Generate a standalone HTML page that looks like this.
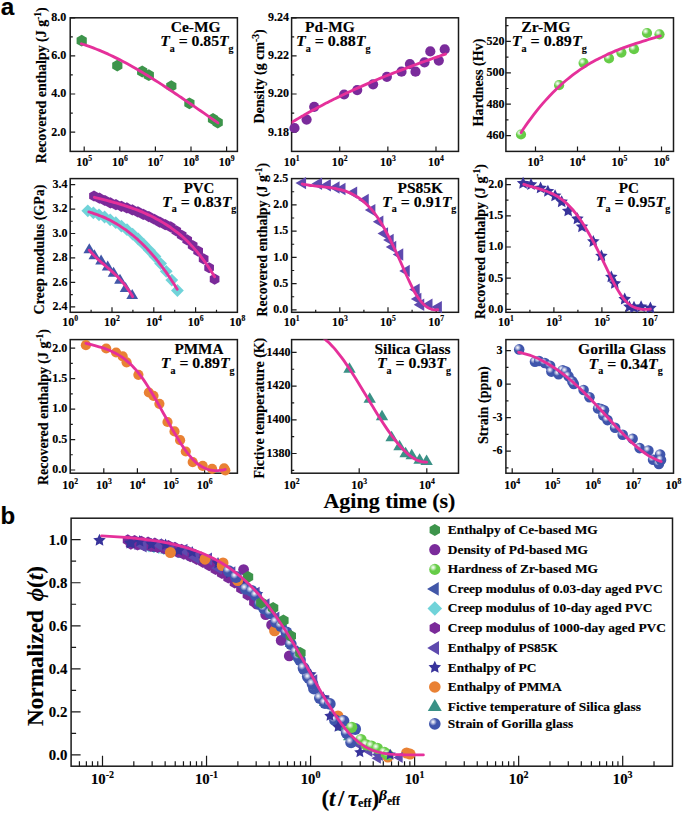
<!DOCTYPE html><html><head><meta charset="utf-8"><style>html,body{margin:0;padding:0;background:#fff;}svg{display:block;}text{font-family:'Liberation Serif', serif;font-weight:bold;fill:#000;stroke:#000;stroke-width:0.15px;}</style></head><body>
<svg width="685" height="813" viewBox="0 0 685 813">
<rect width="685" height="813" fill="#fff"/>
<defs>
<radialGradient id="gz" cx="0.35" cy="0.33" r="0.33" fx="0.35" fy="0.33"><stop offset="0" stop-color="#f7fcf6"/><stop offset="0.25" stop-color="#e0f5da"/><stop offset="1" stop-color="#66CC47"/></radialGradient>
<radialGradient id="gg" cx="0.35" cy="0.33" r="0.33" fx="0.35" fy="0.33"><stop offset="0" stop-color="#f5f6fb"/><stop offset="0.25" stop-color="#d9ddee"/><stop offset="1" stop-color="#3F55AC"/></radialGradient>
<clipPath id="c1"><rect x="70.2" y="17.8" width="167.2" height="133.6"/></clipPath>
<clipPath id="c2"><rect x="291.6" y="17.8" width="166.9" height="133.6"/></clipPath>
<clipPath id="c3"><rect x="505.9" y="17.8" width="167.6" height="133.6"/></clipPath>
<clipPath id="c4"><rect x="70.2" y="178.6" width="167.2" height="133.7"/></clipPath>
<clipPath id="c5"><rect x="291.6" y="178.6" width="166.9" height="133.7"/></clipPath>
<clipPath id="c6"><rect x="505.9" y="178.6" width="167.6" height="133.7"/></clipPath>
<clipPath id="c7"><rect x="70.2" y="339.6" width="167.2" height="133.6"/></clipPath>
<clipPath id="c8"><rect x="291.6" y="339.6" width="166.9" height="133.6"/></clipPath>
<clipPath id="c9"><rect x="505.9" y="339.6" width="167.6" height="133.6"/></clipPath>
<clipPath id="c0"><rect x="71.1" y="518.2" width="601.4" height="248"/></clipPath>
</defs>
<text x="0.7" y="14.7" font-size="24.3" style="font-family:'Liberation Sans',sans-serif">a</text>
<text x="0.6" y="523.5" font-size="24" style="font-family:'Liberation Sans',sans-serif">b</text>
<rect x="70.2" y="17.8" width="167.2" height="133.6" fill="none" stroke="#1a1a1a" stroke-width="1.5"/>
<path d="M70.2,17.8h5M70.2,36.85h2.6M70.2,55.9h5M70.2,74.95h2.6M70.2,94h5M70.2,113.1h2.6M70.2,132.2h5" stroke="#1a1a1a" stroke-width="1.2" fill="none"/>
<text x="66.2" y="21.16" font-size="12" text-anchor="end">8.0</text>
<text x="66.2" y="59.26" font-size="12" text-anchor="end">6.0</text>
<text x="66.2" y="97.36" font-size="12" text-anchor="end">4.0</text>
<text x="66.2" y="135.56" font-size="12" text-anchor="end">2.0</text>
<path d="M84.2,151.4v-5M119.8,151.4v-5M155.4,151.4v-5M191,151.4v-5M226.6,151.4v-5" stroke="#1a1a1a" stroke-width="1.2" fill="none"/>
<text x="84.2" y="166" font-size="12" text-anchor="middle">10<tspan font-size="7.7" dy="-5">5</tspan></text>
<text x="119.8" y="166" font-size="12" text-anchor="middle">10<tspan font-size="7.7" dy="-5">6</tspan></text>
<text x="155.4" y="166" font-size="12" text-anchor="middle">10<tspan font-size="7.7" dy="-5">7</tspan></text>
<text x="191" y="166" font-size="12" text-anchor="middle">10<tspan font-size="7.7" dy="-5">8</tspan></text>
<text x="226.6" y="166" font-size="12" text-anchor="middle">10<tspan font-size="7.7" dy="-5">9</tspan></text>
<text transform="translate(45.7,85.25) rotate(-90)" x="0" y="0" font-size="14" text-anchor="middle" textLength="155.9" lengthAdjust="spacingAndGlyphs">Recovered enthalpy (J g<tspan font-size="9.5" dy="-5">-1</tspan><tspan dy="5">)</tspan></text>
<polygon points="81.7,34.8 86.81,37.75 86.81,43.65 81.7,46.6 76.59,43.65 76.59,37.75" fill="#3D944B"/>
<polygon points="117.3,59.7 122.41,62.65 122.41,68.55 117.3,71.5 112.19,68.55 112.19,62.65" fill="#3D944B"/>
<polygon points="142.2,65.6 147.31,68.55 147.31,74.45 142.2,77.4 137.09,74.45 137.09,68.55" fill="#3D944B"/>
<polygon points="148.8,69.3 153.91,72.25 153.91,78.15 148.8,81.1 143.69,78.15 143.69,72.25" fill="#3D944B"/>
<polygon points="171.3,80.2 176.41,83.15 176.41,89.05 171.3,92 166.19,89.05 166.19,83.15" fill="#3D944B"/>
<polygon points="189.4,97.4 194.51,100.35 194.51,106.25 189.4,109.2 184.29,106.25 184.29,100.35" fill="#3D944B"/>
<polygon points="213,113.1 218.11,116.05 218.11,121.95 213,124.9 207.89,121.95 207.89,116.05" fill="#3D944B"/>
<polygon points="217.7,116.6 222.81,119.55 222.81,125.45 217.7,128.4 212.59,125.45 212.59,119.55" fill="#3D944B"/>
<path d="M81.4,43.8 C81.98,43.99 83.74,44.54 84.9,44.92 C86.07,45.31 87.24,45.7 88.41,46.11 C89.57,46.53 90.74,46.95 91.91,47.38 C93.08,47.82 94.24,48.26 95.41,48.72 C96.58,49.18 97.75,49.65 98.91,50.13 C100.08,50.61 101.25,51.1 102.42,51.6 C103.58,52.1 104.75,52.62 105.92,53.14 C107.09,53.66 108.25,54.2 109.42,54.74 C110.59,55.28 111.76,55.84 112.92,56.4 C114.09,56.96 115.26,57.54 116.43,58.12 C117.59,58.7 118.76,59.29 119.93,59.89 C121.1,60.49 122.26,61.1 123.43,61.72 C124.6,62.33 125.77,62.96 126.93,63.59 C128.1,64.23 129.27,64.87 130.44,65.52 C131.6,66.17 132.77,66.83 133.94,67.49 C135.11,68.16 136.27,68.83 137.44,69.51 C138.61,70.19 139.78,70.87 140.94,71.57 C142.11,72.26 143.28,72.96 144.45,73.66 C145.61,74.37 146.78,75.08 147.95,75.8 C149.12,76.52 150.28,77.24 151.45,77.97 C152.62,78.7 153.79,79.43 154.95,80.17 C156.12,80.91 157.29,81.65 158.46,82.4 C159.62,83.15 160.79,83.91 161.96,84.67 C163.13,85.42 164.29,86.19 165.46,86.95 C166.63,87.72 167.8,88.49 168.96,89.27 C170.13,90.04 171.3,90.82 172.47,91.6 C173.63,92.38 174.8,93.16 175.97,93.95 C177.14,94.74 178.3,95.53 179.47,96.32 C180.64,97.11 181.81,97.91 182.97,98.71 C184.14,99.5 185.31,100.3 186.48,101.1 C187.64,101.91 188.81,102.71 189.98,103.51 C191.15,104.32 192.31,105.12 193.48,105.93 C194.65,106.74 195.82,107.54 196.98,108.35 C198.15,109.16 199.32,109.97 200.49,110.78 C201.65,111.59 202.82,112.39 203.99,113.2 C205.16,114.01 206.32,114.82 207.49,115.63 C208.66,116.44 209.83,117.25 210.99,118.05 C212.16,118.86 213.33,119.67 214.5,120.47 C215.66,121.28 217.42,122.48 218,122.88" fill="none" stroke="#E5309A" stroke-width="2.85" stroke-linecap="round" stroke-linejoin="round" clip-path="url(#c1)"/>
<text x="170.7" y="31.8" font-size="15.5" textLength="49.9" lengthAdjust="spacingAndGlyphs">Ce-MG</text>
<text x="160.2" y="46.3" font-size="15.5" textLength="73.4" lengthAdjust="spacingAndGlyphs"><tspan font-style="italic">T</tspan><tspan font-size="9.8" dy="5.4">a</tspan><tspan dy="-5.4"> = 0.85</tspan><tspan font-style="italic">T</tspan><tspan font-size="9.8" dy="5.4">g</tspan></text>
<rect x="291.6" y="17.8" width="166.9" height="133.6" fill="none" stroke="#1a1a1a" stroke-width="1.5"/>
<path d="M291.6,17.8h5M291.6,36.85h2.6M291.6,55.9h5M291.6,74.95h2.6M291.6,94h5M291.6,113.1h2.6M291.6,132.2h5" stroke="#1a1a1a" stroke-width="1.2" fill="none"/>
<text x="289" y="21.16" font-size="12" text-anchor="end">9.24</text>
<text x="289" y="59.26" font-size="12" text-anchor="end">9.22</text>
<text x="289" y="97.36" font-size="12" text-anchor="end">9.20</text>
<text x="289" y="135.56" font-size="12" text-anchor="end">9.18</text>
<path d="M339.73,151.4v-5M387.86,151.4v-5M435.99,151.4v-5" stroke="#1a1a1a" stroke-width="1.2" fill="none"/>
<text x="291.6" y="166" font-size="12" text-anchor="middle">10<tspan font-size="7.7" dy="-5">1</tspan></text>
<text x="339.73" y="166" font-size="12" text-anchor="middle">10<tspan font-size="7.7" dy="-5">2</tspan></text>
<text x="387.86" y="166" font-size="12" text-anchor="middle">10<tspan font-size="7.7" dy="-5">3</tspan></text>
<text x="435.99" y="166" font-size="12" text-anchor="middle">10<tspan font-size="7.7" dy="-5">4</tspan></text>
<text transform="translate(263.6,76.4) rotate(-90)" x="0" y="0" font-size="14" text-anchor="middle" textLength="94.2" lengthAdjust="spacingAndGlyphs">Density (g cm<tspan font-size="9.5" dy="-5">-3</tspan><tspan dy="5">)</tspan></text>
<circle cx="294.5" cy="128" r="5.1" fill="#7A2B9B"/>
<circle cx="306.6" cy="119.6" r="5.1" fill="#7A2B9B"/>
<circle cx="314.2" cy="106.8" r="5.1" fill="#7A2B9B"/>
<circle cx="344.1" cy="94.5" r="5.1" fill="#7A2B9B"/>
<circle cx="357.2" cy="90.1" r="5.1" fill="#7A2B9B"/>
<circle cx="373.1" cy="84.3" r="5.1" fill="#7A2B9B"/>
<circle cx="386.9" cy="76.8" r="5.1" fill="#7A2B9B"/>
<circle cx="401.5" cy="71.7" r="5.1" fill="#7A2B9B"/>
<circle cx="409.9" cy="64.1" r="5.1" fill="#7A2B9B"/>
<circle cx="415.5" cy="71.7" r="5.1" fill="#7A2B9B"/>
<circle cx="424.5" cy="62.3" r="5.1" fill="#7A2B9B"/>
<circle cx="430.3" cy="51.4" r="5.1" fill="#7A2B9B"/>
<circle cx="438.8" cy="60.6" r="5.1" fill="#7A2B9B"/>
<circle cx="444.7" cy="49.4" r="5.1" fill="#7A2B9B"/>
<path d="M290.5,123.11 C291.16,122.71 293.15,121.51 294.47,120.72 C295.8,119.93 297.12,119.15 298.45,118.37 C299.77,117.6 301.1,116.83 302.42,116.07 C303.75,115.31 305.07,114.55 306.4,113.81 C307.72,113.06 309.05,112.32 310.37,111.59 C311.7,110.85 313.02,110.13 314.35,109.41 C315.67,108.69 317,107.97 318.32,107.27 C319.65,106.56 320.97,105.86 322.29,105.17 C323.62,104.47 324.94,103.78 326.27,103.1 C327.59,102.42 328.92,101.75 330.24,101.08 C331.57,100.41 332.89,99.74 334.22,99.09 C335.54,98.43 336.87,97.78 338.19,97.13 C339.52,96.48 340.84,95.84 342.17,95.21 C343.49,94.57 344.82,93.94 346.14,93.32 C347.47,92.7 348.79,92.08 350.12,91.46 C351.44,90.85 352.76,90.24 354.09,89.64 C355.41,89.03 356.74,88.44 358.06,87.84 C359.39,87.25 360.71,86.66 362.04,86.08 C363.36,85.49 364.69,84.91 366.01,84.34 C367.34,83.76 368.66,83.19 369.99,82.63 C371.31,82.06 372.64,81.5 373.96,80.94 C375.29,80.39 376.61,79.83 377.94,79.28 C379.26,78.73 380.59,78.19 381.91,77.65 C383.24,77.11 384.56,76.57 385.88,76.04 C387.21,75.51 388.53,74.98 389.86,74.45 C391.18,73.92 392.51,73.4 393.83,72.88 C395.16,72.36 396.48,71.85 397.81,71.34 C399.13,70.83 400.46,70.32 401.78,69.81 C403.11,69.31 404.43,68.8 405.76,68.3 C407.08,67.8 408.41,67.31 409.73,66.81 C411.06,66.32 412.38,65.83 413.71,65.34 C415.03,64.85 416.35,64.37 417.68,63.88 C419,63.4 420.33,62.92 421.65,62.44 C422.98,61.96 424.3,61.49 425.63,61.01 C426.95,60.54 428.28,60.07 429.6,59.6 C430.93,59.13 432.25,58.66 433.58,58.2 C434.9,57.73 436.23,57.27 437.55,56.81 C438.88,56.34 440.2,55.88 441.53,55.42 C442.85,54.97 444.84,54.28 445.5,54.05" fill="none" stroke="#E5309A" stroke-width="2.85" stroke-linecap="round" stroke-linejoin="round" clip-path="url(#c2)"/>
<text x="305" y="31.9" font-size="15.5" textLength="49.8" lengthAdjust="spacingAndGlyphs">Pd-MG</text>
<text x="295.9" y="46.3" font-size="15.5" textLength="74.7" lengthAdjust="spacingAndGlyphs"><tspan font-style="italic">T</tspan><tspan font-size="9.8" dy="5.4">a</tspan><tspan dy="-5.4"> = 0.88</tspan><tspan font-style="italic">T</tspan><tspan font-size="9.8" dy="5.4">g</tspan></text>
<rect x="505.9" y="17.8" width="167.6" height="133.6" fill="none" stroke="#1a1a1a" stroke-width="1.5"/>
<path d="M505.9,25.7h2.6M505.9,41.4h5M505.9,57.1h2.6M505.9,72.8h5M505.9,88.5h2.6M505.9,104.2h5M505.9,119.9h2.6M505.9,135.6h5" stroke="#1a1a1a" stroke-width="1.2" fill="none"/>
<text x="504.4" y="44.76" font-size="12" text-anchor="end">520</text>
<text x="504.4" y="76.16" font-size="12" text-anchor="end">500</text>
<text x="504.4" y="107.56" font-size="12" text-anchor="end">480</text>
<text x="504.4" y="138.96" font-size="12" text-anchor="end">460</text>
<path d="M535.5,151.4v-5M577.5,151.4v-5M619.5,151.4v-5M661.5,151.4v-5" stroke="#1a1a1a" stroke-width="1.2" fill="none"/>
<text x="535.5" y="166" font-size="12" text-anchor="middle">10<tspan font-size="7.7" dy="-5">3</tspan></text>
<text x="577.5" y="166" font-size="12" text-anchor="middle">10<tspan font-size="7.7" dy="-5">4</tspan></text>
<text x="619.5" y="166" font-size="12" text-anchor="middle">10<tspan font-size="7.7" dy="-5">5</tspan></text>
<text x="661.5" y="166" font-size="12" text-anchor="middle">10<tspan font-size="7.7" dy="-5">6</tspan></text>
<text transform="translate(482.8,82.65) rotate(-90)" x="0" y="0" font-size="14" text-anchor="middle" textLength="87.9" lengthAdjust="spacingAndGlyphs">Hardness (Hv)</text>
<circle cx="521" cy="134.5" r="5.1" fill="url(#gz)"/>
<circle cx="559.1" cy="85.2" r="5.1" fill="url(#gz)"/>
<circle cx="583.6" cy="63.1" r="5.1" fill="url(#gz)"/>
<circle cx="609" cy="58.4" r="5.1" fill="url(#gz)"/>
<circle cx="621.4" cy="52.6" r="5.1" fill="url(#gz)"/>
<circle cx="634" cy="49.2" r="5.1" fill="url(#gz)"/>
<circle cx="647" cy="33" r="5.1" fill="url(#gz)"/>
<circle cx="659.5" cy="34.3" r="5.1" fill="url(#gz)"/>
<path d="M521,132.58 C521.6,131.69 523.38,128.99 524.57,127.25 C525.76,125.51 526.95,123.81 528.14,122.15 C529.33,120.49 530.52,118.86 531.72,117.27 C532.91,115.68 534.1,114.13 535.29,112.61 C536.48,111.09 537.67,109.6 538.86,108.15 C540.05,106.7 541.24,105.28 542.43,103.9 C543.62,102.51 544.81,101.16 546,99.84 C547.19,98.52 548.38,97.23 549.57,95.97 C550.76,94.71 551.96,93.48 553.15,92.28 C554.34,91.08 555.53,89.92 556.72,88.77 C557.91,87.63 559.1,86.52 560.29,85.44 C561.48,84.35 562.67,83.3 563.86,82.26 C565.05,81.23 566.24,80.23 567.43,79.25 C568.62,78.27 569.81,77.32 571.01,76.39 C572.2,75.46 573.39,74.55 574.58,73.67 C575.77,72.79 576.96,71.93 578.15,71.09 C579.34,70.26 580.53,69.44 581.72,68.65 C582.91,67.86 584.1,67.09 585.29,66.33 C586.48,65.58 587.67,64.85 588.86,64.14 C590.05,63.42 591.25,62.73 592.44,62.06 C593.63,61.38 594.82,60.72 596.01,60.08 C597.2,59.44 598.39,58.82 599.58,58.21 C600.77,57.6 601.96,57.01 603.15,56.44 C604.34,55.86 605.53,55.3 606.72,54.75 C607.91,54.2 609.1,53.67 610.29,53.15 C611.49,52.62 612.68,52.12 613.87,51.62 C615.06,51.12 616.25,50.64 617.44,50.16 C618.63,49.69 619.82,49.23 621.01,48.77 C622.2,48.32 623.39,47.87 624.58,47.44 C625.77,47 626.96,46.58 628.15,46.16 C629.34,45.74 630.54,45.33 631.73,44.92 C632.92,44.51 634.11,44.12 635.3,43.72 C636.49,43.33 637.68,42.94 638.87,42.56 C640.06,42.17 641.25,41.8 642.44,41.42 C643.63,41.05 644.82,40.67 646.01,40.3 C647.2,39.93 648.39,39.57 649.58,39.2 C650.78,38.84 651.97,38.47 653.16,38.11 C654.35,37.74 655.54,37.38 656.73,37.01 C657.92,36.65 659.7,36.1 660.3,35.92" fill="none" stroke="#E5309A" stroke-width="2.85" stroke-linecap="round" stroke-linejoin="round" clip-path="url(#c3)"/>
<text x="521.2" y="31.9" font-size="15.5" textLength="49.2" lengthAdjust="spacingAndGlyphs">Zr-MG</text>
<text x="511.7" y="46.3" font-size="15.5" textLength="75.1" lengthAdjust="spacingAndGlyphs"><tspan font-style="italic">T</tspan><tspan font-size="9.8" dy="5.4">a</tspan><tspan dy="-5.4"> = 0.89</tspan><tspan font-style="italic">T</tspan><tspan font-size="9.8" dy="5.4">g</tspan></text>
<rect x="70.2" y="178.6" width="167.2" height="133.7" fill="none" stroke="#1a1a1a" stroke-width="1.5"/>
<path d="M70.2,184.6h5M70.2,196.82h2.6M70.2,209.04h5M70.2,221.26h2.6M70.2,233.48h5M70.2,245.7h2.6M70.2,257.92h5M70.2,270.14h2.6M70.2,282.36h5M70.2,294.58h2.6M70.2,306.8h5" stroke="#1a1a1a" stroke-width="1.2" fill="none"/>
<text x="67.4" y="187.96" font-size="12" text-anchor="end">3.4</text>
<text x="67.4" y="212.4" font-size="12" text-anchor="end">3.2</text>
<text x="67.4" y="236.84" font-size="12" text-anchor="end">3.0</text>
<text x="67.4" y="261.28" font-size="12" text-anchor="end">2.8</text>
<text x="67.4" y="285.72" font-size="12" text-anchor="end">2.6</text>
<text x="67.4" y="310.16" font-size="12" text-anchor="end">2.4</text>
<path d="M91.1,312.3v-2.6M112,312.3v-5M132.9,312.3v-2.6M153.8,312.3v-5M174.7,312.3v-2.6M195.6,312.3v-5M216.5,312.3v-2.6" stroke="#1a1a1a" stroke-width="1.2" fill="none"/>
<text x="70.2" y="326.3" font-size="12" text-anchor="middle">10<tspan font-size="7.7" dy="-5">0</tspan></text>
<text x="112" y="326.3" font-size="12" text-anchor="middle">10<tspan font-size="7.7" dy="-5">2</tspan></text>
<text x="153.8" y="326.3" font-size="12" text-anchor="middle">10<tspan font-size="7.7" dy="-5">4</tspan></text>
<text x="195.6" y="326.3" font-size="12" text-anchor="middle">10<tspan font-size="7.7" dy="-5">6</tspan></text>
<text x="237.4" y="326.3" font-size="12" text-anchor="middle">10<tspan font-size="7.7" dy="-5">8</tspan></text>
<text transform="translate(43.8,249.55) rotate(-90)" x="0" y="0" font-size="14" text-anchor="middle" textLength="129.7" lengthAdjust="spacingAndGlyphs">Creep modulus (GPa)</text>
<polygon points="94,190.4 98.85,193.2 98.85,198.8 94,201.6 89.15,198.8 89.15,193.2" fill="#7A2A99"/>
<polygon points="99.48,192.59 104.33,195.39 104.33,200.99 99.48,203.79 94.63,200.99 94.63,195.39" fill="#7A2A99"/>
<polygon points="104.96,194.88 109.81,197.68 109.81,203.28 104.96,206.08 100.11,203.28 100.11,197.68" fill="#7A2A99"/>
<polygon points="110.45,197.33 115.3,200.13 115.3,205.73 110.45,208.53 105.6,205.73 105.6,200.13" fill="#7A2A99"/>
<polygon points="115.93,199.08 120.78,201.88 120.78,207.48 115.93,210.28 111.08,207.48 111.08,201.88" fill="#7A2A99"/>
<polygon points="121.41,200.72 126.26,203.52 126.26,209.12 121.41,211.92 116.56,209.12 116.56,203.52" fill="#7A2A99"/>
<polygon points="126.89,202.37 131.74,205.17 131.74,210.77 126.89,213.57 122.04,210.77 122.04,205.17" fill="#7A2A99"/>
<polygon points="132.37,204.34 137.22,207.14 137.22,212.74 132.37,215.54 127.52,212.74 127.52,207.14" fill="#7A2A99"/>
<polygon points="137.85,206.3 142.7,209.1 142.7,214.7 137.85,217.5 133,214.7 133,209.1" fill="#7A2A99"/>
<polygon points="143.34,208.82 148.19,211.62 148.19,217.22 143.34,220.02 138.49,217.22 138.49,211.62" fill="#7A2A99"/>
<polygon points="148.82,210.96 153.67,213.76 153.67,219.36 148.82,222.16 143.97,219.36 143.97,213.76" fill="#7A2A99"/>
<polygon points="154.3,213.66 159.15,216.46 159.15,222.06 154.3,224.86 149.45,222.06 149.45,216.46" fill="#7A2A99"/>
<polygon points="159.78,216.57 164.63,219.37 164.63,224.97 159.78,227.77 154.93,224.97 154.93,219.37" fill="#7A2A99"/>
<polygon points="165.26,218.98 170.11,221.78 170.11,227.38 165.26,230.18 160.41,227.38 160.41,221.78" fill="#7A2A99"/>
<polygon points="170.75,221.37 175.6,224.17 175.6,229.77 170.75,232.57 165.9,229.77 165.9,224.17" fill="#7A2A99"/>
<polygon points="176.23,225.2 181.08,228 181.08,233.6 176.23,236.4 171.38,233.6 171.38,228" fill="#7A2A99"/>
<polygon points="181.71,229.66 186.56,232.46 186.56,238.06 181.71,240.86 176.86,238.06 176.86,232.46" fill="#7A2A99"/>
<polygon points="187.19,234.36 192.04,237.16 192.04,242.76 187.19,245.56 182.34,242.76 182.34,237.16" fill="#7A2A99"/>
<polygon points="192.67,239.94 197.52,242.74 197.52,248.34 192.67,251.14 187.82,248.34 187.82,242.74" fill="#7A2A99"/>
<polygon points="198.15,245.52 203,248.32 203,253.92 198.15,256.72 193.3,253.92 193.3,248.32" fill="#7A2A99"/>
<polygon points="203.64,253.32 208.49,256.12 208.49,261.72 203.64,264.52 198.79,261.72 198.79,256.12" fill="#7A2A99"/>
<polygon points="209.12,262.14 213.97,264.94 213.97,270.54 209.12,273.34 204.27,270.54 204.27,264.94" fill="#7A2A99"/>
<polygon points="214.6,273.56 219.45,276.36 219.45,281.96 214.6,284.76 209.75,281.96 209.75,276.36" fill="#7A2A99"/>
<polygon points="87.8,204.4 94.2,210.8 87.8,217.2 81.4,210.8" fill="#70D3D9"/>
<polygon points="93.4,206.41 99.8,212.81 93.4,219.21 87,212.81" fill="#70D3D9"/>
<polygon points="99,208.42 105.4,214.82 99,221.22 92.6,214.82" fill="#70D3D9"/>
<polygon points="104.6,210.6 111,217 104.6,223.4 98.2,217" fill="#70D3D9"/>
<polygon points="110.2,213.4 116.6,219.8 110.2,226.2 103.8,219.8" fill="#70D3D9"/>
<polygon points="115.8,216.28 122.2,222.68 115.8,229.08 109.4,222.68" fill="#70D3D9"/>
<polygon points="121.4,219.63 127.8,226.03 121.4,232.43 115,226.03" fill="#70D3D9"/>
<polygon points="127,223.31 133.4,229.71 127,236.11 120.6,229.71" fill="#70D3D9"/>
<polygon points="132.6,227.7 139,234.1 132.6,240.5 126.2,234.1" fill="#70D3D9"/>
<polygon points="138.2,232.62 144.6,239.02 138.2,245.42 131.8,239.02" fill="#70D3D9"/>
<polygon points="143.8,238.06 150.2,244.46 143.8,250.86 137.4,244.46" fill="#70D3D9"/>
<polygon points="149.4,243.96 155.8,250.36 149.4,256.76 143,250.36" fill="#70D3D9"/>
<polygon points="155,250.11 161.4,256.51 155,262.91 148.6,256.51" fill="#70D3D9"/>
<polygon points="160.6,257.19 167,263.59 160.6,269.99 154.2,263.59" fill="#70D3D9"/>
<polygon points="166.2,264.96 172.6,271.36 166.2,277.76 159.8,271.36" fill="#70D3D9"/>
<polygon points="171.8,273.71 178.2,280.11 171.8,286.51 165.4,280.11" fill="#70D3D9"/>
<polygon points="177.4,284.1 183.8,290.5 177.4,296.9 171,290.5" fill="#70D3D9"/>
<polygon points="89.3,243.19 83.4,253.21 95.2,253.21" fill="#4257A8"/>
<polygon points="94.4,249.29 88.5,259.31 100.3,259.31" fill="#4257A8"/>
<polygon points="101.1,254.38 95.2,264.41 107,264.41" fill="#4257A8"/>
<polygon points="107.7,260.49 101.8,270.51 113.6,270.51" fill="#4257A8"/>
<polygon points="113.6,266.69 107.7,276.71 119.5,276.71" fill="#4257A8"/>
<polygon points="120,273.79 114.1,283.81 125.9,283.81" fill="#4257A8"/>
<polygon points="125.6,281.99 119.7,292.01 131.5,292.01" fill="#4257A8"/>
<polygon points="132.2,289.09 126.3,299.12 138.1,299.12" fill="#4257A8"/>
<path d="M94.4,197.3 C94.91,197.43 96.45,197.81 97.48,198.07 C98.51,198.33 99.54,198.59 100.56,198.85 C101.59,199.11 102.62,199.37 103.65,199.63 C104.67,199.9 105.7,200.16 106.73,200.43 C107.76,200.7 108.78,200.98 109.81,201.25 C110.84,201.53 111.86,201.81 112.89,202.1 C113.92,202.38 114.95,202.67 115.97,202.97 C117,203.27 118.03,203.57 119.06,203.87 C120.08,204.18 121.11,204.49 122.14,204.81 C123.17,205.13 124.19,205.46 125.22,205.79 C126.25,206.12 127.28,206.46 128.3,206.81 C129.33,207.16 130.36,207.52 131.38,207.88 C132.41,208.25 133.44,208.62 134.47,209.01 C135.49,209.39 136.52,209.78 137.55,210.18 C138.58,210.59 139.6,211 140.63,211.42 C141.66,211.84 142.69,212.28 143.71,212.72 C144.74,213.17 145.77,213.62 146.79,214.09 C147.82,214.56 148.85,215.04 149.88,215.54 C150.9,216.03 151.93,216.53 152.96,217.05 C153.99,217.57 155.01,218.11 156.04,218.65 C157.07,219.2 158.1,219.76 159.12,220.33 C160.15,220.91 161.18,221.5 162.21,222.11 C163.23,222.71 164.26,223.33 165.29,223.98 C166.31,224.62 167.34,225.28 168.37,225.96 C169.4,226.64 170.42,227.33 171.45,228.06 C172.48,228.78 173.51,229.52 174.53,230.29 C175.56,231.06 176.59,231.85 177.62,232.67 C178.64,233.49 179.67,234.34 180.7,235.21 C181.72,236.08 182.75,236.98 183.78,237.91 C184.81,238.85 185.83,239.81 186.86,240.8 C187.89,241.79 188.92,242.82 189.94,243.88 C190.97,244.94 192,246.03 193.03,247.16 C194.05,248.28 195.08,249.45 196.11,250.65 C197.14,251.85 198.16,253.09 199.19,254.37 C200.22,255.65 201.24,256.97 202.27,258.33 C203.3,259.69 204.33,261.09 205.35,262.54 C206.38,263.99 207.41,265.47 208.44,267.01 C209.46,268.55 210.49,270.12 211.52,271.75 C212.55,273.38 214.09,275.94 214.6,276.78" fill="none" stroke="#E5309A" stroke-width="2.85" stroke-linecap="round" stroke-linejoin="round" clip-path="url(#c4)"/>
<path d="M88.8,211.88 C89.18,211.99 90.31,212.32 91.07,212.56 C91.82,212.79 92.58,213.03 93.33,213.28 C94.09,213.53 94.84,213.78 95.6,214.05 C96.36,214.31 97.11,214.59 97.87,214.87 C98.62,215.16 99.38,215.45 100.13,215.75 C100.89,216.05 101.64,216.36 102.4,216.68 C103.16,217 103.91,217.33 104.67,217.67 C105.42,218.01 106.18,218.36 106.93,218.72 C107.69,219.08 108.44,219.45 109.2,219.83 C109.96,220.21 110.71,220.6 111.47,221 C112.22,221.4 112.98,221.81 113.73,222.23 C114.49,222.65 115.24,223.08 116,223.53 C116.76,223.97 117.51,224.43 118.27,224.89 C119.02,225.36 119.78,225.84 120.53,226.33 C121.29,226.82 122.04,227.32 122.8,227.83 C123.56,228.34 124.31,228.87 125.07,229.41 C125.82,229.94 126.58,230.49 127.33,231.06 C128.09,231.62 128.84,232.19 129.6,232.78 C130.36,233.37 131.11,233.97 131.87,234.58 C132.62,235.2 133.38,235.82 134.13,236.46 C134.89,237.1 135.64,237.76 136.4,238.42 C137.16,239.09 137.91,239.77 138.67,240.46 C139.42,241.16 140.18,241.87 140.93,242.59 C141.69,243.31 142.44,244.05 143.2,244.8 C143.96,245.55 144.71,246.32 145.47,247.1 C146.22,247.88 146.98,248.67 147.73,249.48 C148.49,250.29 149.24,251.12 150,251.96 C150.76,252.8 151.51,253.66 152.27,254.53 C153.02,255.4 153.78,256.28 154.53,257.19 C155.29,258.09 156.04,259.01 156.8,259.94 C157.56,260.88 158.31,261.83 159.07,262.8 C159.82,263.76 160.58,264.75 161.33,265.75 C162.09,266.75 162.84,267.77 163.6,268.8 C164.36,269.83 165.11,270.88 165.87,271.95 C166.62,273.02 167.38,274.11 168.13,275.21 C168.89,276.31 169.64,277.43 170.4,278.57 C171.16,279.71 171.91,280.86 172.67,282.04 C173.42,283.21 174.18,284.41 174.93,285.62 C175.69,286.83 176.82,288.69 177.2,289.3" fill="none" stroke="#E5309A" stroke-width="2.85" stroke-linecap="round" stroke-linejoin="round" clip-path="url(#c4)"/>
<path d="M89.3,250.15 C89.49,250.37 90.04,251.03 90.41,251.45 C90.78,251.88 91.15,252.29 91.53,252.71 C91.9,253.12 92.27,253.52 92.64,253.92 C93.01,254.31 93.38,254.7 93.75,255.09 C94.12,255.47 94.49,255.85 94.86,256.22 C95.24,256.59 95.61,256.96 95.98,257.32 C96.35,257.69 96.72,258.04 97.09,258.4 C97.46,258.75 97.83,259.1 98.2,259.44 C98.57,259.78 98.94,260.13 99.32,260.46 C99.69,260.8 100.06,261.13 100.43,261.46 C100.8,261.8 101.17,262.12 101.54,262.45 C101.91,262.78 102.28,263.1 102.65,263.42 C103.02,263.74 103.4,264.06 103.77,264.38 C104.14,264.7 104.51,265.02 104.88,265.34 C105.25,265.66 105.62,265.97 105.99,266.29 C106.36,266.61 106.73,266.93 107.11,267.24 C107.48,267.56 107.85,267.88 108.22,268.2 C108.59,268.52 108.96,268.84 109.33,269.16 C109.7,269.48 110.07,269.8 110.44,270.13 C110.81,270.46 111.19,270.78 111.56,271.11 C111.93,271.44 112.3,271.78 112.67,272.11 C113.04,272.45 113.41,272.79 113.78,273.13 C114.15,273.48 114.52,273.82 114.89,274.18 C115.27,274.53 115.64,274.88 116.01,275.25 C116.38,275.61 116.75,275.97 117.12,276.34 C117.49,276.71 117.86,277.09 118.23,277.47 C118.6,277.86 118.98,278.25 119.35,278.64 C119.72,279.04 120.09,279.44 120.46,279.85 C120.83,280.26 121.2,280.67 121.57,281.1 C121.94,281.52 122.31,281.95 122.68,282.39 C123.06,282.83 123.43,283.28 123.8,283.73 C124.17,284.19 124.54,284.66 124.91,285.13 C125.28,285.61 125.65,286.09 126.02,286.58 C126.39,287.08 126.76,287.58 127.14,288.09 C127.51,288.61 127.88,289.13 128.25,289.67 C128.62,290.2 128.99,290.75 129.36,291.31 C129.73,291.87 130.1,292.43 130.47,293.02 C130.85,293.6 131.22,294.19 131.59,294.8 C131.96,295.4 132.51,296.34 132.7,296.65" fill="none" stroke="#E5309A" stroke-width="2.85" stroke-linecap="round" stroke-linejoin="round" clip-path="url(#c4)"/>
<text x="183.7" y="193" font-size="15.5" textLength="30.7" lengthAdjust="spacingAndGlyphs">PVC</text>
<text x="162.1" y="207" font-size="15.5" textLength="74.3" lengthAdjust="spacingAndGlyphs"><tspan font-style="italic">T</tspan><tspan font-size="9.8" dy="5.4">a</tspan><tspan dy="-5.4"> = 0.83</tspan><tspan font-style="italic">T</tspan><tspan font-size="9.8" dy="5.4">g</tspan></text>
<rect x="291.6" y="178.6" width="166.9" height="133.7" fill="none" stroke="#1a1a1a" stroke-width="1.5"/>
<path d="M291.6,191.73h2.6M291.6,204.86h5M291.6,217.99h2.6M291.6,231.12h5M291.6,244.25h2.6M291.6,257.38h5M291.6,270.51h2.6M291.6,283.64h5M291.6,296.77h2.6M291.6,309.9h5" stroke="#1a1a1a" stroke-width="1.2" fill="none"/>
<text x="288.3" y="181.96" font-size="12" text-anchor="end">2.5</text>
<text x="288.3" y="208.22" font-size="12" text-anchor="end">2.0</text>
<text x="288.3" y="234.48" font-size="12" text-anchor="end">1.5</text>
<text x="288.3" y="260.74" font-size="12" text-anchor="end">1.0</text>
<text x="288.3" y="287" font-size="12" text-anchor="end">0.5</text>
<text x="288.3" y="313.26" font-size="12" text-anchor="end">0.0</text>
<path d="M315.7,312.3v-2.6M339.8,312.3v-5M363.9,312.3v-2.6M388,312.3v-5M412.1,312.3v-2.6M436.2,312.3v-5" stroke="#1a1a1a" stroke-width="1.2" fill="none"/>
<text x="291.6" y="326.3" font-size="12" text-anchor="middle">10<tspan font-size="7.7" dy="-5">1</tspan></text>
<text x="339.8" y="326.3" font-size="12" text-anchor="middle">10<tspan font-size="7.7" dy="-5">3</tspan></text>
<text x="388" y="326.3" font-size="12" text-anchor="middle">10<tspan font-size="7.7" dy="-5">5</tspan></text>
<text x="436.2" y="326.3" font-size="12" text-anchor="middle">10<tspan font-size="7.7" dy="-5">7</tspan></text>
<text transform="translate(266.7,239.65) rotate(-90)" x="0" y="0" font-size="14" text-anchor="middle" textLength="153.5" lengthAdjust="spacingAndGlyphs">Recovered enthalpy (J g<tspan font-size="9.5" dy="-5">-1</tspan><tspan dy="5">)</tspan></text>
<polygon points="295.53,183.1 306.07,176.9 306.07,189.3" fill="#5E4AAE"/>
<polygon points="311.53,183.8 322.07,177.6 322.07,190" fill="#5E4AAE"/>
<polygon points="320.33,185.3 330.87,179.1 330.87,191.5" fill="#5E4AAE"/>
<polygon points="329.03,187.5 339.57,181.3 339.57,193.7" fill="#5E4AAE"/>
<polygon points="334.93,189 345.47,182.8 345.47,195.2" fill="#5E4AAE"/>
<polygon points="346.63,192.6 357.17,186.4 357.17,198.8" fill="#5E4AAE"/>
<polygon points="358.23,199.9 368.77,193.7 368.77,206.1" fill="#5E4AAE"/>
<polygon points="364.83,210.1 375.37,203.9 375.37,216.3" fill="#5E4AAE"/>
<polygon points="372.83,221.8 383.37,215.6 383.37,228" fill="#5E4AAE"/>
<polygon points="377.53,233.5 388.07,227.3 388.07,239.7" fill="#5E4AAE"/>
<polygon points="383.13,240 393.67,233.8 393.67,246.2" fill="#5E4AAE"/>
<polygon points="385.73,247 396.27,240.8 396.27,253.2" fill="#5E4AAE"/>
<polygon points="392.73,254.5 403.27,248.3 403.27,260.7" fill="#5E4AAE"/>
<polygon points="399.23,270.9 409.77,264.7 409.77,277.1" fill="#5E4AAE"/>
<polygon points="409.13,289.6 419.67,283.4 419.67,295.8" fill="#5E4AAE"/>
<polygon points="410.83,298.9 421.37,292.7 421.37,305.1" fill="#5E4AAE"/>
<polygon points="413.73,304.7 424.27,298.5 424.27,310.9" fill="#5E4AAE"/>
<polygon points="421.93,304.7 432.47,298.5 432.47,310.9" fill="#5E4AAE"/>
<polygon points="431.33,307.1 441.87,300.9 441.87,313.3" fill="#5E4AAE"/>
<path d="M302.2,183.95 C302.78,184.07 304.52,184.44 305.67,184.65 C306.83,184.86 307.99,185.05 309.15,185.22 C310.31,185.39 311.46,185.54 312.62,185.68 C313.78,185.82 314.94,185.95 316.1,186.07 C317.26,186.2 318.41,186.31 319.57,186.43 C320.73,186.54 321.89,186.66 323.05,186.78 C324.2,186.9 325.36,187.02 326.52,187.16 C327.68,187.29 328.84,187.44 329.99,187.6 C331.15,187.76 332.31,187.93 333.47,188.13 C334.63,188.33 335.79,188.55 336.94,188.8 C338.1,189.04 339.26,189.31 340.42,189.62 C341.58,189.92 342.73,190.26 343.89,190.63 C345.05,191.01 346.21,191.42 347.37,191.87 C348.52,192.33 349.68,192.82 350.84,193.37 C352,193.92 353.16,194.51 354.32,195.16 C355.47,195.81 356.63,196.51 357.79,197.27 C358.95,198.03 360.11,198.85 361.26,199.74 C362.42,200.63 363.58,201.57 364.74,202.6 C365.9,203.63 367.05,204.72 368.21,205.9 C369.37,207.08 370.53,208.33 371.69,209.69 C372.85,211.04 374,212.48 375.16,214.02 C376.32,215.57 377.48,217.21 378.64,218.96 C379.79,220.71 380.95,222.58 382.11,224.54 C383.27,226.5 384.43,228.58 385.58,230.72 C386.74,232.87 387.9,235.11 389.06,237.4 C390.22,239.7 391.38,242.07 392.53,244.49 C393.69,246.9 394.85,249.38 396.01,251.89 C397.17,254.39 398.32,256.95 399.48,259.52 C400.64,262.09 401.8,264.7 402.96,267.3 C404.11,269.9 405.27,272.55 406.43,275.12 C407.59,277.69 408.75,280.28 409.91,282.72 C411.06,285.15 412.22,287.55 413.38,289.72 C414.54,291.9 415.7,293.94 416.85,295.77 C418.01,297.59 419.17,299.22 420.33,300.67 C421.49,302.12 422.64,303.38 423.8,304.47 C424.96,305.56 426.12,306.47 427.28,307.22 C428.44,307.97 429.59,308.55 430.75,308.98 C431.91,309.41 433.07,309.67 434.23,309.8 C435.38,309.93 437.12,309.75 437.7,309.74" fill="none" stroke="#E5309A" stroke-width="2.85" stroke-linecap="round" stroke-linejoin="round" clip-path="url(#c5)"/>
<text x="397.5" y="193" font-size="15.5" textLength="45.6" lengthAdjust="spacingAndGlyphs">PS85K</text>
<text x="382.1" y="207" font-size="15.5" textLength="74.3" lengthAdjust="spacingAndGlyphs"><tspan font-style="italic">T</tspan><tspan font-size="9.8" dy="5.4">a</tspan><tspan dy="-5.4"> = 0.91</tspan><tspan font-style="italic">T</tspan><tspan font-size="9.8" dy="5.4">g</tspan></text>
<rect x="505.9" y="178.6" width="167.6" height="133.7" fill="none" stroke="#1a1a1a" stroke-width="1.5"/>
<path d="M505.9,184.6h5M505.9,200.2h2.6M505.9,215.8h5M505.9,231.4h2.6M505.9,247h5M505.9,262.6h2.6M505.9,278.2h5M505.9,293.8h2.6M505.9,309.4h5" stroke="#1a1a1a" stroke-width="1.2" fill="none"/>
<text x="503.3" y="187.96" font-size="12" text-anchor="end">2.0</text>
<text x="503.3" y="219.16" font-size="12" text-anchor="end">1.5</text>
<text x="503.3" y="250.36" font-size="12" text-anchor="end">1.0</text>
<text x="503.3" y="281.56" font-size="12" text-anchor="end">0.5</text>
<text x="503.3" y="312.76" font-size="12" text-anchor="end">0.0</text>
<path d="M529.9,312.3v-2.6M553.9,312.3v-5M577.9,312.3v-2.6M601.9,312.3v-5M625.9,312.3v-2.6M649.9,312.3v-5" stroke="#1a1a1a" stroke-width="1.2" fill="none"/>
<text x="505.9" y="326.3" font-size="12" text-anchor="middle">10<tspan font-size="7.7" dy="-5">1</tspan></text>
<text x="553.9" y="326.3" font-size="12" text-anchor="middle">10<tspan font-size="7.7" dy="-5">3</tspan></text>
<text x="601.9" y="326.3" font-size="12" text-anchor="middle">10<tspan font-size="7.7" dy="-5">5</tspan></text>
<text x="649.9" y="326.3" font-size="12" text-anchor="middle">10<tspan font-size="7.7" dy="-5">7</tspan></text>
<text transform="translate(484.9,241.6) rotate(-90)" x="0" y="0" font-size="14" text-anchor="middle" textLength="154.8" lengthAdjust="spacingAndGlyphs">Recovered enthalpy (J g<tspan font-size="9.5" dy="-5">-1</tspan><tspan dy="5">)</tspan></text>
<polygon points="523.1,176.7 525,180.68 529.38,181.26 526.18,184.3 526.98,188.64 523.1,186.53 519.22,188.64 520.02,184.3 516.82,181.26 521.2,180.68" fill="#38339B"/>
<polygon points="531,178 532.9,181.98 537.28,182.56 534.08,185.6 534.88,189.94 531,187.83 527.12,189.94 527.92,185.6 524.72,182.56 529.1,181.98" fill="#38339B"/>
<polygon points="540.6,181.4 542.5,185.38 546.88,185.96 543.68,189 544.48,193.34 540.6,191.23 536.72,193.34 537.52,189 534.32,185.96 538.7,185.38" fill="#38339B"/>
<polygon points="547.9,184.7 549.8,188.68 554.18,189.26 550.98,192.3 551.78,196.64 547.9,194.53 544.02,196.64 544.82,192.3 541.62,189.26 546,188.68" fill="#38339B"/>
<polygon points="555.1,189.3 557,193.28 561.38,193.86 558.18,196.9 558.98,201.24 555.1,199.13 551.22,201.24 552.02,196.9 548.82,193.86 553.2,193.28" fill="#38339B"/>
<polygon points="561.7,195.2 563.6,199.18 567.98,199.76 564.78,202.8 565.58,207.14 561.7,205.03 557.82,207.14 558.62,202.8 555.42,199.76 559.8,199.18" fill="#38339B"/>
<polygon points="568.2,204.4 570.1,208.38 574.48,208.96 571.28,212 572.08,216.34 568.2,214.23 564.32,216.34 565.12,212 561.92,208.96 566.3,208.38" fill="#38339B"/>
<polygon points="577.4,212.3 579.3,216.28 583.68,216.86 580.48,219.9 581.28,224.24 577.4,222.13 573.52,224.24 574.32,219.9 571.12,216.86 575.5,216.28" fill="#38339B"/>
<polygon points="582,220.2 583.9,224.18 588.28,224.76 585.08,227.8 585.88,232.14 582,230.03 578.12,232.14 578.92,227.8 575.72,224.76 580.1,224.18" fill="#38339B"/>
<polygon points="593.3,235 595.2,238.98 599.58,239.56 596.38,242.6 597.18,246.94 593.3,244.83 589.42,246.94 590.22,242.6 587.02,239.56 591.4,238.98" fill="#38339B"/>
<polygon points="601.4,249.4 603.3,253.38 607.68,253.96 604.48,257 605.28,261.34 601.4,259.23 597.52,261.34 598.32,257 595.12,253.96 599.5,253.38" fill="#38339B"/>
<polygon points="611.3,270.4 613.2,274.38 617.58,274.96 614.38,278 615.18,282.34 611.3,280.23 607.42,282.34 608.22,278 605.02,274.96 609.4,274.38" fill="#38339B"/>
<polygon points="614.8,276.9 616.7,280.88 621.08,281.46 617.88,284.5 618.68,288.84 614.8,286.73 610.92,288.84 611.72,284.5 608.52,281.46 612.9,280.88" fill="#38339B"/>
<polygon points="624.7,292.6 626.6,296.58 630.98,297.16 627.78,300.2 628.58,304.54 624.7,302.43 620.82,304.54 621.62,300.2 618.42,297.16 622.8,296.58" fill="#38339B"/>
<polygon points="629.4,300.2 631.3,304.18 635.68,304.76 632.48,307.8 633.28,312.14 629.4,310.03 625.52,312.14 626.32,307.8 623.12,304.76 627.5,304.18" fill="#38339B"/>
<polygon points="634,300.8 635.9,304.78 640.28,305.36 637.08,308.4 637.88,312.74 634,310.63 630.12,312.74 630.92,308.4 627.72,305.36 632.1,304.78" fill="#38339B"/>
<polygon points="641.1,300.2 643,304.18 647.38,304.76 644.18,307.8 644.98,312.14 641.1,310.03 637.22,312.14 638.02,307.8 634.82,304.76 639.2,304.18" fill="#38339B"/>
<polygon points="650.4,301.4 652.3,305.38 656.68,305.96 653.48,309 654.28,313.34 650.4,311.23 646.52,313.34 647.32,309 644.12,305.96 648.5,305.38" fill="#38339B"/>
<path d="M523.8,184.32 C524.34,184.48 525.96,185 527.05,185.32 C528.13,185.64 529.21,185.95 530.29,186.26 C531.37,186.56 532.46,186.86 533.54,187.16 C534.62,187.47 535.7,187.76 536.78,188.08 C537.87,188.39 538.95,188.7 540.03,189.04 C541.11,189.37 542.19,189.71 543.28,190.08 C544.36,190.45 545.44,190.83 546.52,191.25 C547.61,191.66 548.69,192.1 549.77,192.57 C550.85,193.04 551.93,193.54 553.02,194.09 C554.1,194.64 555.18,195.21 556.26,195.84 C557.34,196.47 558.43,197.14 559.51,197.87 C560.59,198.6 561.67,199.37 562.75,200.21 C563.84,201.04 564.92,201.93 566,202.89 C567.08,203.85 568.16,204.87 569.25,205.96 C570.33,207.05 571.41,208.21 572.49,209.45 C573.57,210.69 574.66,212.01 575.74,213.4 C576.82,214.79 577.9,216.25 578.98,217.78 C580.07,219.32 581.15,220.92 582.23,222.58 C583.31,224.25 584.39,225.98 585.48,227.76 C586.56,229.54 587.64,231.39 588.72,233.29 C589.81,235.18 590.89,237.13 591.97,239.13 C593.05,241.12 594.13,243.17 595.22,245.26 C596.3,247.34 597.38,249.47 598.46,251.64 C599.54,253.8 600.63,256.01 601.71,258.24 C602.79,260.46 603.87,262.74 604.95,264.99 C606.04,267.24 607.12,269.52 608.2,271.74 C609.28,273.96 610.36,276.18 611.45,278.32 C612.53,280.46 613.61,282.56 614.69,284.56 C615.77,286.56 616.86,288.5 617.94,290.3 C619.02,292.11 620.1,293.83 621.18,295.38 C622.27,296.93 623.35,298.36 624.43,299.62 C625.51,300.89 626.59,301.99 627.68,302.96 C628.76,303.94 629.84,304.76 630.92,305.48 C632.01,306.2 633.09,306.78 634.17,307.28 C635.25,307.78 636.33,308.15 637.42,308.46 C638.5,308.77 639.58,308.97 640.66,309.13 C641.74,309.28 642.83,309.34 643.91,309.38 C644.99,309.41 646.07,309.37 647.15,309.31 C648.24,309.25 649.86,309.08 650.4,309.03" fill="none" stroke="#E5309A" stroke-width="2.85" stroke-linecap="round" stroke-linejoin="round" clip-path="url(#c6)"/>
<text x="618.7" y="193" font-size="15.5" textLength="20.2" lengthAdjust="spacingAndGlyphs">PC</text>
<text x="595.8" y="207" font-size="15.5" textLength="74.4" lengthAdjust="spacingAndGlyphs"><tspan font-style="italic">T</tspan><tspan font-size="9.8" dy="5.4">a</tspan><tspan dy="-5.4"> = 0.95</tspan><tspan font-style="italic">T</tspan><tspan font-size="9.8" dy="5.4">g</tspan></text>
<rect x="70.2" y="339.6" width="167.2" height="133.6" fill="none" stroke="#1a1a1a" stroke-width="1.5"/>
<path d="M70.2,348.2h5M70.2,363.43h2.6M70.2,378.65h5M70.2,393.88h2.6M70.2,409.1h5M70.2,424.32h2.6M70.2,439.55h5M70.2,454.77h2.6M70.2,470h5" stroke="#1a1a1a" stroke-width="1.2" fill="none"/>
<text x="67.2" y="351.56" font-size="12" text-anchor="end">2.0</text>
<text x="67.2" y="382.01" font-size="12" text-anchor="end">1.5</text>
<text x="67.2" y="412.46" font-size="12" text-anchor="end">1.0</text>
<text x="67.2" y="442.91" font-size="12" text-anchor="end">0.5</text>
<text x="67.2" y="473.36" font-size="12" text-anchor="end">0.0</text>
<path d="M103.8,473.2v-5M137.4,473.2v-5M171,473.2v-5M204.6,473.2v-5" stroke="#1a1a1a" stroke-width="1.2" fill="none"/>
<text x="70.2" y="488.5" font-size="12" text-anchor="middle">10<tspan font-size="7.7" dy="-5">2</tspan></text>
<text x="103.8" y="488.5" font-size="12" text-anchor="middle">10<tspan font-size="7.7" dy="-5">3</tspan></text>
<text x="137.4" y="488.5" font-size="12" text-anchor="middle">10<tspan font-size="7.7" dy="-5">4</tspan></text>
<text x="171" y="488.5" font-size="12" text-anchor="middle">10<tspan font-size="7.7" dy="-5">5</tspan></text>
<text x="204.6" y="488.5" font-size="12" text-anchor="middle">10<tspan font-size="7.7" dy="-5">6</tspan></text>
<text transform="translate(47.7,407) rotate(-90)" x="0" y="0" font-size="14" text-anchor="middle" textLength="156" lengthAdjust="spacingAndGlyphs">Recovered enthalpy (J g<tspan font-size="9.5" dy="-5">-1</tspan><tspan dy="5">)</tspan></text>
<circle cx="85.9" cy="345.2" r="5.1" fill="#E98134"/>
<circle cx="106.2" cy="348.5" r="5.1" fill="#E98134"/>
<circle cx="116.1" cy="352.5" r="5.1" fill="#E98134"/>
<circle cx="122.7" cy="356.4" r="5.1" fill="#E98134"/>
<circle cx="126.6" cy="362.3" r="5.1" fill="#E98134"/>
<circle cx="138.4" cy="374.8" r="5.1" fill="#E98134"/>
<circle cx="148.9" cy="392.5" r="5.1" fill="#E98134"/>
<circle cx="153.5" cy="395.8" r="5.1" fill="#E98134"/>
<circle cx="159.4" cy="403.8" r="5.1" fill="#E98134"/>
<circle cx="167.5" cy="422" r="5.1" fill="#E98134"/>
<circle cx="174.5" cy="431.4" r="5.1" fill="#E98134"/>
<circle cx="180.1" cy="440.2" r="5.1" fill="#E98134"/>
<circle cx="185.8" cy="451.5" r="5.1" fill="#E98134"/>
<circle cx="192.7" cy="462.1" r="5.1" fill="#E98134"/>
<circle cx="202.7" cy="465.9" r="5.1" fill="#E98134"/>
<circle cx="212.1" cy="468.8" r="5.1" fill="#E98134"/>
<circle cx="224.1" cy="468.4" r="5.1" fill="#E98134"/>
<circle cx="225.3" cy="470.3" r="5.1" fill="#E98134"/>
<path d="M85.9,343.41 C86.5,343.55 88.28,343.98 89.47,344.26 C90.67,344.55 91.86,344.84 93.05,345.14 C94.24,345.43 95.43,345.73 96.62,346.05 C97.81,346.38 99.01,346.7 100.2,347.06 C101.39,347.41 102.58,347.78 103.77,348.19 C104.96,348.59 106.15,349.01 107.35,349.47 C108.54,349.93 109.73,350.42 110.92,350.95 C112.11,351.49 113.3,352.05 114.49,352.67 C115.69,353.29 116.88,353.94 118.07,354.65 C119.26,355.36 120.45,356.12 121.64,356.94 C122.84,357.76 124.03,358.63 125.22,359.57 C126.41,360.51 127.6,361.51 128.79,362.58 C129.98,363.66 131.18,364.79 132.37,366.01 C133.56,367.23 134.75,368.52 135.94,369.89 C137.13,371.26 138.32,372.72 139.52,374.26 C140.71,375.8 141.9,377.44 143.09,379.14 C144.28,380.84 145.47,382.63 146.66,384.48 C147.86,386.32 149.05,388.24 150.24,390.19 C151.43,392.15 152.62,394.17 153.81,396.21 C155,398.26 156.2,400.35 157.39,402.46 C158.58,404.56 159.77,406.71 160.96,408.85 C162.15,410.99 163.34,413.16 164.54,415.31 C165.73,417.47 166.92,419.63 168.11,421.77 C169.3,423.9 170.49,426.04 171.68,428.14 C172.88,430.23 174.07,432.31 175.26,434.33 C176.45,436.36 177.64,438.35 178.83,440.27 C180.02,442.19 181.22,444.07 182.41,445.87 C183.6,447.66 184.79,449.39 185.98,451.03 C187.17,452.66 188.36,454.22 189.56,455.67 C190.75,457.11 191.94,458.47 193.13,459.7 C194.32,460.93 195.51,462.05 196.71,463.05 C197.9,464.05 199.09,464.94 200.28,465.72 C201.47,466.51 202.66,467.18 203.85,467.77 C205.05,468.35 206.24,468.83 207.43,469.23 C208.62,469.63 209.81,469.93 211,470.16 C212.19,470.38 213.39,470.52 214.58,470.59 C215.77,470.67 216.96,470.66 218.15,470.59 C219.34,470.53 220.53,470.39 221.73,470.2 C222.92,470.01 224.7,469.58 225.3,469.45" fill="none" stroke="#E5309A" stroke-width="2.85" stroke-linecap="round" stroke-linejoin="round" clip-path="url(#c7)"/>
<text x="174.4" y="353.7" font-size="15.5" textLength="49.1" lengthAdjust="spacingAndGlyphs">PMMA</text>
<text x="160.8" y="368.4" font-size="15.5" textLength="73.8" lengthAdjust="spacingAndGlyphs"><tspan font-style="italic">T</tspan><tspan font-size="9.8" dy="5.4">a</tspan><tspan dy="-5.4"> = 0.89</tspan><tspan font-style="italic">T</tspan><tspan font-size="9.8" dy="5.4">g</tspan></text>
<rect x="291.6" y="339.6" width="166.9" height="133.6" fill="none" stroke="#1a1a1a" stroke-width="1.5"/>
<path d="M291.6,352.4h5M291.6,369.25h2.6M291.6,386.1h5M291.6,402.95h2.6M291.6,419.8h5M291.6,436.65h2.6M291.6,453.5h5M291.6,470.35h2.6" stroke="#1a1a1a" stroke-width="1.2" fill="none"/>
<text x="290.5" y="355.76" font-size="12" text-anchor="end">1440</text>
<text x="290.5" y="389.46" font-size="12" text-anchor="end">1420</text>
<text x="290.5" y="423.16" font-size="12" text-anchor="end">1400</text>
<text x="290.5" y="456.86" font-size="12" text-anchor="end">1380</text>
<path d="M359.2,473.2v-5M426.8,473.2v-5" stroke="#1a1a1a" stroke-width="1.2" fill="none"/>
<text x="291.6" y="488.5" font-size="12" text-anchor="middle">10<tspan font-size="7.7" dy="-5">2</tspan></text>
<text x="359.2" y="488.5" font-size="12" text-anchor="middle">10<tspan font-size="7.7" dy="-5">3</tspan></text>
<text x="426.8" y="488.5" font-size="12" text-anchor="middle">10<tspan font-size="7.7" dy="-5">4</tspan></text>
<text transform="translate(263.7,408.15) rotate(-90)" x="0" y="0" font-size="14" text-anchor="middle" textLength="140.7" lengthAdjust="spacingAndGlyphs">Fictive temperature (K)</text>
<polygon points="349.5,362.13 343.3,372.67 355.7,372.67" fill="#3A9186"/>
<polygon points="369.7,392.33 363.5,402.87 375.9,402.87" fill="#3A9186"/>
<polygon points="382,409.83 375.8,420.37 388.2,420.37" fill="#3A9186"/>
<polygon points="391.6,430.83 385.4,441.37 397.8,441.37" fill="#3A9186"/>
<polygon points="399.5,439.63 393.3,450.17 405.7,450.17" fill="#3A9186"/>
<polygon points="405.6,446.63 399.4,457.17 411.8,457.17" fill="#3A9186"/>
<polygon points="411.7,448.73 405.5,459.27 417.9,459.27" fill="#3A9186"/>
<polygon points="419.6,453.23 413.4,463.77 425.8,463.77" fill="#3A9186"/>
<polygon points="426.6,454.53 420.4,465.07 432.8,465.07" fill="#3A9186"/>
<path d="M320,335.64 C320.46,335.94 321.82,336.8 322.73,337.45 C323.64,338.11 324.56,338.82 325.47,339.57 C326.38,340.33 327.29,341.14 328.2,342 C329.11,342.85 330.02,343.75 330.93,344.7 C331.84,345.64 332.76,346.63 333.67,347.65 C334.58,348.68 335.49,349.75 336.4,350.85 C337.31,351.95 338.22,353.09 339.13,354.27 C340.04,355.44 340.96,356.65 341.87,357.88 C342.78,359.12 343.69,360.39 344.6,361.68 C345.51,362.97 346.42,364.29 347.33,365.63 C348.24,366.98 349.16,368.35 350.07,369.73 C350.98,371.12 351.89,372.53 352.8,373.95 C353.71,375.37 354.62,376.82 355.53,378.27 C356.44,379.72 357.36,381.19 358.27,382.67 C359.18,384.15 360.09,385.64 361,387.14 C361.91,388.63 362.82,390.14 363.73,391.65 C364.64,393.15 365.56,394.67 366.47,396.18 C367.38,397.69 368.29,399.2 369.2,400.71 C370.11,402.22 371.02,403.73 371.93,405.23 C372.84,406.73 373.76,408.23 374.67,409.71 C375.58,411.2 376.49,412.68 377.4,414.14 C378.31,415.61 379.22,417.06 380.13,418.5 C381.04,419.93 381.96,421.36 382.87,422.76 C383.78,424.16 384.69,425.54 385.6,426.9 C386.51,428.26 387.42,429.61 388.33,430.92 C389.24,432.23 390.16,433.52 391.07,434.78 C391.98,436.04 392.89,437.27 393.8,438.47 C394.71,439.66 395.62,440.83 396.53,441.96 C397.44,443.09 398.36,444.19 399.27,445.24 C400.18,446.3 401.09,447.32 402,448.3 C402.91,449.27 403.82,450.21 404.73,451.1 C405.64,451.99 406.56,452.83 407.47,453.63 C408.38,454.43 409.29,455.18 410.2,455.87 C411.11,456.57 412.02,457.21 412.93,457.8 C413.84,458.39 414.76,458.93 415.67,459.41 C416.58,459.88 417.49,460.3 418.4,460.66 C419.31,461.02 420.22,461.31 421.13,461.54 C422.04,461.77 422.96,461.94 423.87,462.04 C424.78,462.14 426.14,462.12 426.6,462.13" fill="none" stroke="#E5309A" stroke-width="2.85" stroke-linecap="round" stroke-linejoin="round" clip-path="url(#c8)"/>
<text x="374.5" y="353.6" font-size="15.5" textLength="76.1" lengthAdjust="spacingAndGlyphs">Silica Glass</text>
<text x="376.9" y="368.4" font-size="15.5" textLength="74.1" lengthAdjust="spacingAndGlyphs"><tspan font-style="italic">T</tspan><tspan font-size="9.8" dy="5.4">a</tspan><tspan dy="-5.4"> = 0.93</tspan><tspan font-style="italic">T</tspan><tspan font-size="9.8" dy="5.4">g</tspan></text>
<rect x="505.9" y="339.6" width="167.6" height="133.6" fill="none" stroke="#1a1a1a" stroke-width="1.5"/>
<path d="M505.9,350.6h5M505.9,367.36h2.6M505.9,384.11h5M505.9,400.87h2.6M505.9,417.62h5M505.9,434.38h2.6M505.9,451.13h5M505.9,467.88h2.6" stroke="#1a1a1a" stroke-width="1.2" fill="none"/>
<text x="502.6" y="353.96" font-size="12" text-anchor="end">3</text>
<text x="502.6" y="387.47" font-size="12" text-anchor="end">0</text>
<text x="502.6" y="420.98" font-size="12" text-anchor="end">-3</text>
<text x="502.6" y="454.49" font-size="12" text-anchor="end">-6</text>
<path d="M512.2,473.2v-5M552.5,473.2v-5M592.8,473.2v-5M633.1,473.2v-5" stroke="#1a1a1a" stroke-width="1.2" fill="none"/>
<text x="512.2" y="488.5" font-size="12" text-anchor="middle">10<tspan font-size="7.7" dy="-5">4</tspan></text>
<text x="552.5" y="488.5" font-size="12" text-anchor="middle">10<tspan font-size="7.7" dy="-5">5</tspan></text>
<text x="592.8" y="488.5" font-size="12" text-anchor="middle">10<tspan font-size="7.7" dy="-5">6</tspan></text>
<text x="633.1" y="488.5" font-size="12" text-anchor="middle">10<tspan font-size="7.7" dy="-5">7</tspan></text>
<text x="673.4" y="488.5" font-size="12" text-anchor="middle">10<tspan font-size="7.7" dy="-5">8</tspan></text>
<text transform="translate(487.6,405.2) rotate(-90)" x="0" y="0" font-size="14" text-anchor="middle" textLength="77.8" lengthAdjust="spacingAndGlyphs">Strain (ppm)</text>
<circle cx="519.2" cy="349.4" r="5.3" fill="url(#gg)"/>
<circle cx="535" cy="361.7" r="5.3" fill="url(#gg)"/>
<circle cx="539" cy="361" r="5.3" fill="url(#gg)"/>
<circle cx="544.8" cy="363" r="5.3" fill="url(#gg)"/>
<circle cx="550.1" cy="365.7" r="5.3" fill="url(#gg)"/>
<circle cx="551.4" cy="371.6" r="5.3" fill="url(#gg)"/>
<circle cx="558.6" cy="374.2" r="5.3" fill="url(#gg)"/>
<circle cx="562.6" cy="370.2" r="5.3" fill="url(#gg)"/>
<circle cx="565.9" cy="371.6" r="5.3" fill="url(#gg)"/>
<circle cx="568.5" cy="376.2" r="5.3" fill="url(#gg)"/>
<circle cx="572.4" cy="381.4" r="5.3" fill="url(#gg)"/>
<circle cx="573.8" cy="384" r="5.3" fill="url(#gg)"/>
<circle cx="583.6" cy="390" r="5.3" fill="url(#gg)"/>
<circle cx="589.5" cy="397.2" r="5.3" fill="url(#gg)"/>
<circle cx="598.1" cy="408.4" r="5.3" fill="url(#gg)"/>
<circle cx="601.1" cy="409" r="5.3" fill="url(#gg)"/>
<circle cx="604" cy="410.2" r="5.3" fill="url(#gg)"/>
<circle cx="603.4" cy="415.4" r="5.3" fill="url(#gg)"/>
<circle cx="607.5" cy="420.1" r="5.3" fill="url(#gg)"/>
<circle cx="615.1" cy="427.7" r="5.3" fill="url(#gg)"/>
<circle cx="622.7" cy="434.7" r="5.3" fill="url(#gg)"/>
<circle cx="632.6" cy="438.8" r="5.3" fill="url(#gg)"/>
<circle cx="639.6" cy="448.1" r="5.3" fill="url(#gg)"/>
<circle cx="648.4" cy="450.5" r="5.3" fill="url(#gg)"/>
<circle cx="653.1" cy="459.8" r="5.3" fill="url(#gg)"/>
<circle cx="660.1" cy="454.6" r="5.3" fill="url(#gg)"/>
<circle cx="658.9" cy="463.9" r="5.3" fill="url(#gg)"/>
<circle cx="661" cy="460" r="5.3" fill="url(#gg)"/>
<path d="M518.6,352.36 C519.21,352.48 521.04,352.81 522.26,353.09 C523.48,353.37 524.69,353.69 525.91,354.04 C527.13,354.38 528.35,354.76 529.57,355.18 C530.79,355.59 532.01,356.04 533.23,356.52 C534.44,356.99 535.66,357.5 536.88,358.04 C538.1,358.59 539.32,359.16 540.54,359.76 C541.76,360.36 542.98,360.99 544.19,361.65 C545.41,362.31 546.63,363 547.85,363.72 C549.07,364.44 550.29,365.18 551.51,365.96 C552.73,366.73 553.95,367.53 555.16,368.36 C556.38,369.19 557.6,370.04 558.82,370.92 C560.04,371.8 561.26,372.7 562.48,373.63 C563.7,374.56 564.91,375.52 566.13,376.5 C567.35,377.48 568.57,378.48 569.79,379.5 C571.01,380.53 572.23,381.58 573.45,382.65 C574.66,383.72 575.88,384.81 577.1,385.93 C578.32,387.04 579.54,388.18 580.76,389.34 C581.98,390.49 583.2,391.67 584.42,392.87 C585.63,394.06 586.85,395.28 588.07,396.51 C589.29,397.75 590.51,399 591.73,400.27 C592.95,401.54 594.17,402.83 595.38,404.13 C596.6,405.43 597.82,406.74 599.04,408.06 C600.26,409.38 601.48,410.71 602.7,412.04 C603.92,413.38 605.14,414.71 606.35,416.05 C607.57,417.38 608.79,418.72 610.01,420.05 C611.23,421.38 612.45,422.71 613.67,424.03 C614.89,425.34 616.1,426.65 617.32,427.95 C618.54,429.24 619.76,430.53 620.98,431.79 C622.2,433.05 623.42,434.3 624.64,435.53 C625.85,436.75 627.07,437.96 628.29,439.13 C629.51,440.31 630.73,441.46 631.95,442.58 C633.17,443.7 634.39,444.8 635.61,445.85 C636.82,446.91 638.04,447.93 639.26,448.92 C640.48,449.9 641.7,450.84 642.92,451.75 C644.14,452.65 645.36,453.51 646.57,454.32 C647.79,455.13 649.01,455.89 650.23,456.61 C651.45,457.32 652.67,457.98 653.89,458.58 C655.11,459.19 656.32,459.74 657.54,460.23 C658.76,460.72 660.59,461.3 661.2,461.51" fill="none" stroke="#E5309A" stroke-width="2.85" stroke-linecap="round" stroke-linejoin="round" clip-path="url(#c9)"/>
<text x="578.1" y="353.7" font-size="15.5" textLength="87.7" lengthAdjust="spacingAndGlyphs">Gorilla Glass</text>
<text x="588.5" y="368.6" font-size="15.5" textLength="74.2" lengthAdjust="spacingAndGlyphs"><tspan font-style="italic">T</tspan><tspan font-size="9.8" dy="5.4">a</tspan><tspan dy="-5.4"> = 0.34</tspan><tspan font-style="italic">T</tspan><tspan font-size="9.8" dy="5.4">g</tspan></text>
<text x="389.4" y="507.7" font-size="22" text-anchor="middle">Aging time (s)</text>
<rect x="71.1" y="518.2" width="601.4" height="248" fill="none" stroke="#1a1a1a" stroke-width="1.5"/>
<path d="M71.1,754.9h9.5M71.1,733.38h5M71.1,711.86h9.5M71.1,690.34h5M71.1,668.82h9.5M71.1,647.3h5M71.1,625.78h9.5M71.1,604.26h5M71.1,582.74h9.5M71.1,561.22h5M71.1,539.7h9.5" stroke="#1a1a1a" stroke-width="1.2" fill="none"/>
<text x="67.3" y="759.74" font-size="14.8" text-anchor="end">0.0</text>
<text x="67.3" y="716.7" font-size="14.8" text-anchor="end">0.2</text>
<text x="67.3" y="673.66" font-size="14.8" text-anchor="end">0.4</text>
<text x="67.3" y="630.62" font-size="14.8" text-anchor="end">0.6</text>
<text x="67.3" y="587.58" font-size="14.8" text-anchor="end">0.8</text>
<text x="67.3" y="544.54" font-size="14.8" text-anchor="end">1.0</text>
<path d="M79.42,766.2v-5M86.38,766.2v-5M92.42,766.2v-5M97.74,766.2v-5M102.5,766.2v-10.5M133.82,766.2v-5M152.14,766.2v-5M165.14,766.2v-5M175.22,766.2v-5M183.46,766.2v-5M190.42,766.2v-5M196.46,766.2v-5M201.78,766.2v-5M206.54,766.2v-10.5M237.86,766.2v-5M256.18,766.2v-5M269.18,766.2v-5M279.26,766.2v-5M287.5,766.2v-5M294.46,766.2v-5M300.5,766.2v-5M305.82,766.2v-5M310.58,766.2v-10.5M341.9,766.2v-5M360.22,766.2v-5M373.22,766.2v-5M383.3,766.2v-5M391.54,766.2v-5M398.5,766.2v-5M404.54,766.2v-5M409.86,766.2v-5M414.62,766.2v-10.5M445.94,766.2v-5M464.26,766.2v-5M477.26,766.2v-5M487.34,766.2v-5M495.58,766.2v-5M502.54,766.2v-5M508.58,766.2v-5M513.9,766.2v-5M518.66,766.2v-10.5M549.98,766.2v-5M568.3,766.2v-5M581.3,766.2v-5M591.38,766.2v-5M599.62,766.2v-5M606.58,766.2v-5M612.62,766.2v-5M617.94,766.2v-5M622.7,766.2v-10.5M654.02,766.2v-5" stroke="#1a1a1a" stroke-width="1.2" fill="none"/>
<text x="102.5" y="784.2" font-size="14.8" text-anchor="middle">10<tspan font-size="10" dy="-6.5">-2</tspan></text>
<text x="206.54" y="784.2" font-size="14.8" text-anchor="middle">10<tspan font-size="10" dy="-6.5">-1</tspan></text>
<text x="310.58" y="784.2" font-size="14.8" text-anchor="middle">10<tspan font-size="10" dy="-6.5">0</tspan></text>
<text x="414.62" y="784.2" font-size="14.8" text-anchor="middle">10<tspan font-size="10" dy="-6.5">1</tspan></text>
<text x="518.66" y="784.2" font-size="14.8" text-anchor="middle">10<tspan font-size="10" dy="-6.5">2</tspan></text>
<text x="622.7" y="784.2" font-size="14.8" text-anchor="middle">10<tspan font-size="10" dy="-6.5">3</tspan></text>
<text transform="translate(42.8,646) rotate(-90)" x="0" y="0" font-size="24" text-anchor="middle" textLength="160" lengthAdjust="spacingAndGlyphs">Normalized <tspan dx="3" font-style="italic">ϕ</tspan>(<tspan font-style="italic">t</tspan>)</text>
<text x="321.4" y="805.6" font-size="23">(<tspan font-style="italic">t</tspan><tspan dx="2.5">/</tspan><tspan dx="3.5" font-style="italic">τ</tspan><tspan font-size="12" dy="1.5">eff</tspan><tspan dy="-1.5">)</tspan><tspan font-style="italic" font-size="15.5" dy="-5.2">β</tspan><tspan font-size="11.5" dy="5">eff</tspan></text>
<polygon points="149.03,541.51 154.53,547.01 149.03,552.51 143.53,547.01" fill="#70D3D9"/>
<polygon points="153.92,542.23 159.42,547.73 153.92,553.23 148.42,547.73" fill="#70D3D9"/>
<polygon points="158.81,543.03 164.31,548.53 158.81,554.03 153.31,548.53" fill="#70D3D9"/>
<polygon points="163.68,543.92 169.18,549.42 163.68,554.92 158.18,549.42" fill="#70D3D9"/>
<polygon points="168.54,544.91 174.04,550.41 168.54,555.91 163.04,550.41" fill="#70D3D9"/>
<polygon points="173.39,546 178.89,551.5 173.39,557 167.89,551.5" fill="#70D3D9"/>
<polygon points="178.22,547.21 183.72,552.71 178.22,558.21 172.72,552.71" fill="#70D3D9"/>
<polygon points="183.04,548.54 188.54,554.04 183.04,559.54 177.54,554.04" fill="#70D3D9"/>
<polygon points="187.85,550.02 193.35,555.52 187.85,561.02 182.35,555.52" fill="#70D3D9"/>
<polygon points="192.65,551.64 198.15,557.14 192.65,562.64 187.15,557.14" fill="#70D3D9"/>
<polygon points="197.43,553.44 202.93,558.94 197.43,564.44 191.93,558.94" fill="#70D3D9"/>
<polygon points="202.21,555.42 207.71,560.92 202.21,566.42 196.71,560.92" fill="#70D3D9"/>
<polygon points="206.97,557.6 212.47,563.1 206.97,568.6 201.47,563.1" fill="#70D3D9"/>
<polygon points="211.73,560 217.23,565.5 211.73,571 206.23,565.5" fill="#70D3D9"/>
<polygon points="216.48,562.63 221.98,568.13 216.48,573.63 210.98,568.13" fill="#70D3D9"/>
<polygon points="221.23,565.53 226.73,571.03 221.23,576.53 215.73,571.03" fill="#70D3D9"/>
<polygon points="225.99,568.71 231.49,574.21 225.99,579.71 220.49,574.21" fill="#70D3D9"/>
<polygon points="230.75,572.19 236.25,577.69 230.75,583.19 225.25,577.69" fill="#70D3D9"/>
<polygon points="235.51,576.01 241.01,581.51 235.51,587.01 230.01,581.51" fill="#70D3D9"/>
<polygon points="240.29,580.17 245.79,585.67 240.29,591.17 234.79,585.67" fill="#70D3D9"/>
<polygon points="245.09,584.71 250.59,590.21 245.09,595.71 239.59,590.21" fill="#70D3D9"/>
<polygon points="249.89,589.64 255.39,595.14 249.89,600.64 244.39,595.14" fill="#70D3D9"/>
<polygon points="254.72,594.99 260.22,600.49 254.72,605.99 249.22,600.49" fill="#70D3D9"/>
<polygon points="139.32,540.1 133.82,549.45 144.82,549.45" fill="#4257A8"/>
<polygon points="148.18,541.21 142.68,550.56 153.68,550.56" fill="#4257A8"/>
<polygon points="157.02,542.54 151.52,551.89 162.52,551.89" fill="#4257A8"/>
<polygon points="165.82,544.15 160.32,553.5 171.32,553.5" fill="#4257A8"/>
<polygon points="174.59,546.09 169.09,555.44 180.09,555.44" fill="#4257A8"/>
<polygon points="183.32,548.41 177.82,557.76 188.82,557.76" fill="#4257A8"/>
<polygon points="192.02,551.19 186.52,560.54 197.52,560.54" fill="#4257A8"/>
<polygon points="200.68,554.51 195.18,563.86 206.18,563.86" fill="#4257A8"/>
<polygon points="209.32,558.46 203.82,567.81 214.82,567.81" fill="#4257A8"/>
<polygon points="217.94,563.16 212.44,572.51 223.44,572.51" fill="#4257A8"/>
<polygon points="226.56,568.71 221.06,578.06 232.06,578.06" fill="#4257A8"/>
<polygon points="235.19,575.27 229.69,584.62 240.69,584.62" fill="#4257A8"/>
<polygon points="243.86,582.95 238.36,592.3 249.36,592.3" fill="#4257A8"/>
<polygon points="127.78,534.3 132.8,537.2 132.8,543 127.78,545.9 122.76,543 122.76,537.2" fill="#7A2A99"/>
<polygon points="130.84,538.1 135.86,541 135.86,546.8 130.84,549.7 125.81,546.8 125.81,541" fill="#7A2A99"/>
<polygon points="134.55,534.94 139.57,537.84 139.57,543.64 134.55,546.54 129.52,543.64 129.52,537.84" fill="#7A2A99"/>
<polygon points="137.55,538.78 142.57,541.68 142.57,547.48 137.55,550.38 132.53,547.48 132.53,541.68" fill="#7A2A99"/>
<polygon points="141.31,535.68 146.33,538.58 146.33,544.38 141.31,547.28 136.29,544.38 136.29,538.58" fill="#7A2A99"/>
<polygon points="144.25,539.56 149.27,542.46 149.27,548.26 144.25,551.16 139.23,548.26 139.23,542.46" fill="#7A2A99"/>
<polygon points="148.06,536.53 153.09,539.43 153.09,545.23 148.06,548.13 143.04,545.23 143.04,539.43" fill="#7A2A99"/>
<polygon points="150.94,540.47 155.96,543.37 155.96,549.17 150.94,552.07 145.91,549.17 145.91,543.37" fill="#7A2A99"/>
<polygon points="154.81,537.52 159.84,540.42 159.84,546.22 154.81,549.12 149.79,546.22 149.79,540.42" fill="#7A2A99"/>
<polygon points="157.6,541.51 162.63,544.41 162.63,550.21 157.6,553.11 152.58,550.21 152.58,544.41" fill="#7A2A99"/>
<polygon points="161.56,538.65 166.58,541.55 166.58,547.35 161.56,550.25 156.53,547.35 156.53,541.55" fill="#7A2A99"/>
<polygon points="164.26,542.72 169.28,545.62 169.28,551.42 164.26,554.32 159.23,551.42 159.23,545.62" fill="#7A2A99"/>
<polygon points="168.29,539.96 173.31,542.86 173.31,548.66 168.29,551.56 163.27,548.66 163.27,542.86" fill="#7A2A99"/>
<polygon points="170.87,544.21 175.89,547.11 175.89,552.91 170.87,555.81 165.84,552.91 165.84,547.11" fill="#7A2A99"/>
<polygon points="174.95,541.74 179.97,544.64 179.97,550.44 174.95,553.34 169.93,550.44 169.93,544.64" fill="#7A2A99"/>
<polygon points="177.39,546.12 182.41,549.02 182.41,554.82 177.39,557.72 172.37,554.82 172.37,549.02" fill="#7A2A99"/>
<polygon points="181.57,543.79 186.59,546.69 186.59,552.49 181.57,555.39 176.55,552.49 176.55,546.69" fill="#7A2A99"/>
<polygon points="183.87,548.27 188.9,551.17 188.9,556.97 183.87,559.87 178.85,556.97 178.85,551.17" fill="#7A2A99"/>
<polygon points="188.15,546.1 193.18,549 193.18,554.8 188.15,557.7 183.13,554.8 183.13,549" fill="#7A2A99"/>
<polygon points="190.31,550.67 195.33,553.57 195.33,559.37 190.31,562.27 185.28,559.37 185.28,553.57" fill="#7A2A99"/>
<polygon points="194.7,548.68 199.72,551.58 199.72,557.38 194.7,560.28 189.68,557.38 189.68,551.58" fill="#7A2A99"/>
<polygon points="196.69,553.35 201.71,556.25 201.71,562.05 196.69,564.95 191.67,562.05 191.67,556.25" fill="#7A2A99"/>
<polygon points="201.21,551.58 206.23,554.48 206.23,560.28 201.21,563.18 196.18,560.28 196.18,554.48" fill="#7A2A99"/>
<polygon points="203.02,556.36 208.04,559.26 208.04,565.06 203.02,567.96 198,565.06 198,559.26" fill="#7A2A99"/>
<polygon points="207.67,554.84 212.7,557.74 212.7,563.54 207.67,566.44 202.65,563.54 202.65,557.74" fill="#7A2A99"/>
<polygon points="209.3,559.73 214.33,562.63 214.33,568.43 209.3,571.33 204.28,568.43 204.28,562.63" fill="#7A2A99"/>
<polygon points="214.1,558.49 219.12,561.39 219.12,567.19 214.1,570.09 209.08,567.19 209.08,561.39" fill="#7A2A99"/>
<polygon points="215.54,563.51 220.57,566.41 220.57,572.21 215.54,575.11 210.52,572.21 210.52,566.41" fill="#7A2A99"/>
<polygon points="220.57,562.45 225.6,565.35 225.6,571.15 220.57,574.05 215.55,571.15 215.55,565.35" fill="#7A2A99"/>
<polygon points="221.93,567.47 226.95,570.37 226.95,576.17 221.93,579.07 216.91,576.17 216.91,570.37" fill="#7A2A99"/>
<polygon points="227.13,566.77 232.16,569.67 232.16,575.47 227.13,578.37 222.11,575.47 222.11,569.67" fill="#7A2A99"/>
<polygon points="228.33,571.95 233.35,574.85 233.35,580.65 228.33,583.55 223.3,580.65 223.3,574.85" fill="#7A2A99"/>
<polygon points="233.7,571.66 238.72,574.56 238.72,580.36 233.7,583.26 228.68,580.36 228.68,574.56" fill="#7A2A99"/>
<polygon points="234.74,577.01 239.76,579.91 239.76,585.71 234.74,588.61 229.72,585.71 229.72,579.91" fill="#7A2A99"/>
<polygon points="240.28,577.17 245.3,580.07 245.3,585.87 240.28,588.77 235.26,585.87 235.26,580.07" fill="#7A2A99"/>
<polygon points="241.18,582.73 246.2,585.63 246.2,591.43 241.18,594.33 236.16,591.43 236.16,585.63" fill="#7A2A99"/>
<polygon points="246.88,583.37 251.9,586.27 251.9,592.07 246.88,594.97 241.85,592.07 241.85,586.27" fill="#7A2A99"/>
<polygon points="247.65,589.16 252.68,592.06 252.68,597.86 247.65,600.76 242.63,597.86 242.63,592.06" fill="#7A2A99"/>
<polygon points="253.5,590.3 258.52,593.2 258.52,599 253.5,601.9 248.47,599 248.47,593.2" fill="#7A2A99"/>
<polygon points="254.16,596.34 259.18,599.24 259.18,605.04 254.16,607.94 249.14,605.04 249.14,599.24" fill="#7A2A99"/>
<polygon points="135.74,546 146.62,539.6 146.62,552.4" fill="#5E4AAE"/>
<polygon points="151,544.59 161.88,538.19 161.88,550.99" fill="#5E4AAE"/>
<polygon points="163.1,550.41 173.98,544.01 173.98,556.81" fill="#5E4AAE"/>
<polygon points="176.62,550.12 187.5,543.72 187.5,556.52" fill="#5E4AAE"/>
<polygon points="188.17,557.49 199.05,551.09 199.05,563.89" fill="#5E4AAE"/>
<polygon points="201.09,559.02 211.97,552.62 211.97,565.42" fill="#5E4AAE"/>
<polygon points="211.04,568.13 221.92,561.73 221.92,574.53" fill="#5E4AAE"/>
<polygon points="224.5,572.73 235.38,566.33 235.38,579.13" fill="#5E4AAE"/>
<polygon points="233.9,584.81 244.78,578.41 244.78,591.21" fill="#5E4AAE"/>
<polygon points="248.72,593.13 259.6,586.73 259.6,599.53" fill="#5E4AAE"/>
<polygon points="258.61,604.66 269.49,598.26 269.49,611.06" fill="#5E4AAE"/>
<polygon points="268.52,617.9 279.4,611.5 279.4,624.3" fill="#5E4AAE"/>
<polygon points="280.44,635.97 291.32,629.57 291.32,642.37" fill="#5E4AAE"/>
<polygon points="292.39,656.01 303.27,649.61 303.27,662.41" fill="#5E4AAE"/>
<polygon points="306.38,680.75 317.26,674.35 317.26,687.15" fill="#5E4AAE"/>
<polygon points="318.41,701.62 329.29,695.22 329.29,708.02" fill="#5E4AAE"/>
<polygon points="330.51,720.49 341.39,714.09 341.39,726.89" fill="#5E4AAE"/>
<polygon points="340.68,733.58 351.56,727.18 351.56,739.98" fill="#5E4AAE"/>
<polygon points="350.98,743.64 361.86,737.24 361.86,750.04" fill="#5E4AAE"/>
<polygon points="361.43,750.5 372.31,744.1 372.31,756.9" fill="#5E4AAE"/>
<polygon points="371.91,754.5 382.79,748.1 382.79,760.9" fill="#5E4AAE"/>
<polygon points="99.5,533.7 101.4,537.68 105.78,538.26 102.58,541.3 103.38,545.64 99.5,543.53 95.62,545.64 96.42,541.3 93.22,538.26 97.6,537.68" fill="#38339B"/>
<polygon points="129.99,537.01 131.81,540.82 135.99,541.37 132.93,544.27 133.7,548.41 129.99,546.4 126.29,548.41 127.06,544.27 124,541.37 128.18,540.82" fill="#38339B"/>
<polygon points="139.72,535 141.53,538.8 145.71,539.35 142.65,542.25 143.42,546.39 139.72,544.38 136.02,546.39 136.78,542.25 133.73,539.35 137.9,538.8" fill="#38339B"/>
<polygon points="151.42,538.02 153.24,541.82 157.41,542.37 154.36,545.27 155.12,549.42 151.42,547.41 147.72,549.42 148.49,545.27 145.43,542.37 149.61,541.82" fill="#38339B"/>
<polygon points="165.61,538.41 167.43,542.21 171.61,542.76 168.55,545.66 169.32,549.8 165.61,547.79 161.91,549.8 162.68,545.66 159.62,542.76 163.8,542.21" fill="#38339B"/>
<polygon points="178.73,544.47 180.54,548.28 184.72,548.83 181.67,551.73 182.43,555.87 178.73,553.86 175.03,555.87 175.79,551.73 172.74,548.83 176.91,548.28" fill="#38339B"/>
<polygon points="192.19,545.92 194,549.72 198.18,550.27 195.13,553.17 195.89,557.31 192.19,555.3 188.49,557.31 189.25,553.17 186.2,550.27 190.38,549.72" fill="#38339B"/>
<polygon points="204.17,552.75 205.99,556.56 210.17,557.11 207.11,560.01 207.88,564.15 204.17,562.14 200.47,564.15 201.24,560.01 198.18,557.11 202.36,556.56" fill="#38339B"/>
<polygon points="218.01,556.94 219.82,560.75 224,561.3 220.94,564.2 221.71,568.34 218.01,566.33 214.31,568.34 215.07,564.2 212.02,561.3 216.19,560.75" fill="#38339B"/>
<polygon points="229.65,566.84 231.47,570.64 235.64,571.19 232.59,574.09 233.35,578.23 229.65,576.22 225.95,578.23 226.72,574.09 223.66,571.19 227.84,570.64" fill="#38339B"/>
<polygon points="243.66,575.67 245.47,579.47 249.65,580.02 246.59,582.92 247.36,587.07 243.66,585.06 239.95,587.07 240.72,582.92 237.66,580.02 241.84,579.47" fill="#38339B"/>
<polygon points="257.26,588 259.07,591.8 263.25,592.35 260.19,595.25 260.96,599.39 257.26,597.38 253.55,599.39 254.32,595.25 251.26,592.35 255.44,591.8" fill="#38339B"/>
<polygon points="271.6,604.91 273.41,608.72 277.59,609.27 274.53,612.17 275.3,616.31 271.6,614.3 267.89,616.31 268.66,612.17 265.61,609.27 269.78,608.72" fill="#38339B"/>
<polygon points="285,623.6 286.81,627.4 290.99,627.95 287.94,630.85 288.7,634.99 285,632.98 281.3,634.99 282.06,630.85 279.01,627.95 283.19,627.4" fill="#38339B"/>
<polygon points="297.57,645.26 299.38,649.06 303.56,649.61 300.5,652.51 301.27,656.65 297.57,654.64 293.86,656.65 294.63,652.51 291.58,649.61 295.75,649.06" fill="#38339B"/>
<polygon points="310.56,668.13 312.38,671.94 316.56,672.49 313.5,675.39 314.27,679.53 310.56,677.52 306.86,679.53 307.63,675.39 304.57,672.49 308.75,671.94" fill="#38339B"/>
<polygon points="323.14,691.18 324.95,694.98 329.13,695.53 326.07,698.43 326.84,702.58 323.14,700.57 319.44,702.58 320.2,698.43 317.15,695.53 321.32,694.98" fill="#38339B"/>
<circle cx="243.6" cy="569.6" r="5.4" fill="#7A2B9B"/>
<circle cx="256.9" cy="604.2" r="5.4" fill="#7A2B9B"/>
<circle cx="265.7" cy="614.6" r="5.4" fill="#7A2B9B"/>
<circle cx="271.6" cy="624.9" r="5.4" fill="#7A2B9B"/>
<circle cx="281.2" cy="640.4" r="5.4" fill="#7A2B9B"/>
<circle cx="289.3" cy="655.9" r="5.4" fill="#7A2B9B"/>
<circle cx="170.4" cy="552.5" r="5.5" fill="#E98134"/>
<circle cx="205" cy="559.2" r="5.5" fill="#E98134"/>
<circle cx="223" cy="563" r="5.5" fill="#E98134"/>
<circle cx="222.3" cy="565.5" r="5.5" fill="#E98134"/>
<circle cx="237.7" cy="580.6" r="5.5" fill="#E98134"/>
<circle cx="274.6" cy="630.8" r="5.5" fill="#E98134"/>
<circle cx="338" cy="716" r="5.5" fill="#E98134"/>
<circle cx="387.9" cy="757" r="5.5" fill="#E98134"/>
<circle cx="406.6" cy="753" r="5.5" fill="#E98134"/>
<circle cx="410.1" cy="754.1" r="5.5" fill="#E98134"/>
<polygon points="290.29,637.53 284.79,646.88 295.79,646.88" fill="#3A9186"/>
<polygon points="298.27,651.08 292.77,660.43 303.77,660.43" fill="#3A9186"/>
<polygon points="307.26,666.93 301.76,676.28 312.76,676.28" fill="#3A9186"/>
<polygon points="316.26,682.91 310.76,692.26 321.76,692.26" fill="#3A9186"/>
<polygon points="324.28,696.69 318.78,706.04 329.78,706.04" fill="#3A9186"/>
<polygon points="332.33,709.58 326.83,718.93 337.83,718.93" fill="#3A9186"/>
<polygon points="340.41,721.09 334.91,730.44 345.91,730.44" fill="#3A9186"/>
<polygon points="348.54,730.83 343.04,740.18 354.04,740.18" fill="#3A9186"/>
<circle cx="228.8" cy="571.1" r="5.9" fill="url(#gg)"/>
<circle cx="236" cy="577" r="5.9" fill="url(#gg)"/>
<circle cx="245.8" cy="588.8" r="5.9" fill="url(#gg)"/>
<circle cx="251.7" cy="591" r="5.9" fill="url(#gg)"/>
<circle cx="256.1" cy="595.4" r="5.9" fill="url(#gg)"/>
<circle cx="259.8" cy="604.2" r="5.9" fill="url(#gg)"/>
<circle cx="264.2" cy="608.7" r="5.9" fill="url(#gg)"/>
<circle cx="270.1" cy="613.1" r="5.9" fill="url(#gg)"/>
<circle cx="276" cy="622" r="5.9" fill="url(#gg)"/>
<circle cx="281" cy="626" r="5.9" fill="url(#gg)"/>
<circle cx="286.4" cy="632.3" r="5.9" fill="url(#gg)"/>
<circle cx="290.8" cy="644.1" r="5.9" fill="url(#gg)"/>
<circle cx="296" cy="652" r="5.9" fill="url(#gg)"/>
<circle cx="300" cy="660" r="5.9" fill="url(#gg)"/>
<circle cx="304.1" cy="669.1" r="5.9" fill="url(#gg)"/>
<circle cx="307.8" cy="676.5" r="5.9" fill="url(#gg)"/>
<circle cx="314" cy="688.7" r="5.9" fill="url(#gg)"/>
<circle cx="319.9" cy="698" r="5.9" fill="url(#gg)"/>
<circle cx="325" cy="703" r="5.9" fill="url(#gg)"/>
<circle cx="329.8" cy="703.9" r="5.9" fill="url(#gg)"/>
<circle cx="335" cy="720.2" r="5.9" fill="url(#gg)"/>
<circle cx="342.6" cy="721.4" r="5.9" fill="url(#gg)"/>
<circle cx="343.5" cy="720.8" r="5.9" fill="url(#gg)"/>
<circle cx="346.7" cy="733.1" r="5.9" fill="url(#gg)"/>
<circle cx="351.1" cy="742.4" r="5.9" fill="url(#gg)"/>
<circle cx="355.2" cy="729" r="5.9" fill="url(#gg)"/>
<circle cx="298.5" cy="657" r="5.9" fill="url(#gg)"/>
<circle cx="303.5" cy="668" r="5.9" fill="url(#gg)"/>
<circle cx="309" cy="678" r="5.9" fill="url(#gg)"/>
<circle cx="312.5" cy="684" r="5.9" fill="url(#gg)"/>
<polygon points="248,571 253.2,574 253.2,580 248,583 242.8,580 242.8,574" fill="#3D944B"/>
<polygon points="261.3,596.8 266.5,599.8 266.5,605.8 261.3,608.8 256.1,605.8 256.1,599.8" fill="#3D944B"/>
<polygon points="273.1,602 278.3,605 278.3,611 273.1,614 267.9,611 267.9,605" fill="#3D944B"/>
<polygon points="283.4,614.5 288.6,617.5 288.6,623.5 283.4,626.5 278.2,623.5 278.2,617.5" fill="#3D944B"/>
<polygon points="290.8,630 296,633 296,639 290.8,642 285.6,639 285.6,633" fill="#3D944B"/>
<polygon points="300.4,646.9 305.6,649.9 305.6,655.9 300.4,658.9 295.2,655.9 295.2,649.9" fill="#3D944B"/>
<circle cx="351.7" cy="727.3" r="5.6" fill="url(#gz)"/>
<circle cx="361" cy="739.5" r="5.6" fill="url(#gz)"/>
<circle cx="366.3" cy="744.8" r="5.6" fill="url(#gz)"/>
<circle cx="371.5" cy="746" r="5.6" fill="url(#gz)"/>
<circle cx="377.4" cy="748.3" r="5.6" fill="url(#gz)"/>
<circle cx="384.4" cy="752.4" r="5.6" fill="url(#gz)"/>
<circle cx="387.9" cy="754.7" r="5.6" fill="url(#gz)"/>
<polygon points="131,536.2 132.9,540.18 137.28,540.76 134.08,543.8 134.88,548.14 131,546.03 127.12,548.14 127.92,543.8 124.72,540.76 129.1,540.18" fill="#38339B"/>
<polygon points="359.9,746.4 361.63,750.02 365.61,750.55 362.7,753.31 363.43,757.25 359.9,755.34 356.37,757.25 357.1,753.31 354.19,750.55 358.17,750.02" fill="#38339B"/>
<polygon points="390.2,748.7 391.93,752.32 395.91,752.85 393,755.61 393.73,759.55 390.2,757.64 386.67,759.55 387.4,755.61 384.49,752.85 388.47,752.32" fill="#38339B"/>
<polygon points="338,721 339.73,724.62 343.71,725.15 340.8,727.91 341.53,731.85 338,729.94 334.47,731.85 335.2,727.91 332.29,725.15 336.27,724.62" fill="#38339B"/>
<polygon points="330,710 331.73,713.62 335.71,714.15 332.8,716.91 333.53,720.85 330,718.94 326.47,720.85 327.2,716.91 324.29,714.15 328.27,713.62" fill="#38339B"/>
<polygon points="371.52,758.2 380.88,752.7 380.88,763.7" fill="#5E4AAE"/>
<polygon points="393.32,757.5 402.68,752 402.68,763" fill="#5E4AAE"/>
<path d="M101.6,535.85 L105.6,536.05 L109.6,536.28 L113.6,536.53 L117.6,536.8 L121.6,537.09 L125.6,537.41 L129.6,537.76 L133.6,538.13 L137.6,538.55 L141.6,539 L145.6,539.49 L149.6,540.02 L153.6,540.6 L157.6,541.23 L161.6,541.92 L165.6,542.67 L169.6,543.48 L173.6,544.36 L177.6,545.32 L181.6,546.36 L185.6,547.5 L189.6,548.73 L193.6,550.06 L197.6,551.5 L201.6,553.07 L205.6,554.76 L209.6,556.6 L213.6,558.58 L217.6,560.72 L221.6,563.03 L225.6,565.51 L229.6,568.19 L233.6,571.08 L237.6,574.17 L241.6,577.49 L245.6,581.04 L249.6,584.83 L253.6,588.88 L257.6,593.18 L261.6,597.76 L265.6,602.6 L269.6,607.72 L273.6,613.1 L277.6,618.76 L281.6,624.67 L285.6,630.84 L289.6,637.23 L293.6,643.83 L297.6,650.62 L301.6,657.55 L305.6,664.59 L309.6,671.7 L313.6,678.81 L317.6,685.89 L321.6,692.86 L325.6,699.67 L329.6,706.25 L333.6,712.54 L337.6,718.48 L341.6,724.02 L345.6,729.11 L349.6,733.71 L353.6,737.8 L357.6,741.37 L361.6,744.42 L365.6,746.97 L369.6,749.05 L373.6,750.7 L377.6,751.98 L381.6,752.93 L385.6,753.62 L389.6,754.1 L393.6,754.42 L397.6,754.63 L401.6,754.75 L405.6,754.82 L409.6,754.86 L413.6,754.88 L417.6,754.89 L421.6,754.9 L423.4,754.9" fill="none" stroke="#E5309A" stroke-width="2.8" stroke-linecap="round" stroke-linejoin="round"/>
<polygon points="434.8,524 440,527 440,533 434.8,536 429.6,533 429.6,527" fill="#3D944B"/>
<text x="447.8" y="534.3" font-size="13.4" text-anchor="start">Enthalpy of Ce-based MG</text>
<circle cx="434.8" cy="549.7" r="5.6" fill="#7A2B9B"/>
<text x="447.8" y="553.7" font-size="13.4" text-anchor="start">Density of Pd-based MG</text>
<circle cx="434.8" cy="569.4" r="5.6" fill="url(#gz)"/>
<text x="447.8" y="573.4" font-size="13.4" text-anchor="start">Hardness of Zr-based MG</text>
<polygon points="427.04,588.9 438.77,582 438.77,595.8" fill="#4257A8"/>
<text x="447.8" y="593" font-size="13.4" text-anchor="start">Creep modulus of 0.03-day aged PVC</text>
<polygon points="434.8,601.2 442.1,608.5 434.8,615.8 427.5,608.5" fill="#70D3D9"/>
<text x="447.8" y="612.3" font-size="13.4" text-anchor="start">Creep modulus of 10-day aged PVC</text>
<polygon points="434.8,622.1 440,625.1 440,631.1 434.8,634.1 429.6,631.1 429.6,625.1" fill="#7A2A99"/>
<text x="447.8" y="632" font-size="13.4" text-anchor="start">Creep modulus of 1000-day aged PVC</text>
<polygon points="427.24,648 438.97,641.1 438.97,654.9" fill="#5E4AAE"/>
<text x="447.8" y="651.8" font-size="13.4" text-anchor="start">Enthalpy of PS85K</text>
<polygon points="434.8,660.8 436.7,664.78 441.08,665.36 437.88,668.4 438.68,672.74 434.8,670.63 430.92,672.74 431.72,668.4 428.52,665.36 432.9,664.78" fill="#38339B"/>
<text x="447.8" y="671.6" font-size="13.4" text-anchor="start">Enthalpy of PC</text>
<circle cx="434.8" cy="687" r="5.8" fill="#E98134"/>
<text x="447.8" y="691.4" font-size="13.4" text-anchor="start">Enthalpy of PMMA</text>
<polygon points="434.8,699.05 427.8,710.95 441.8,710.95" fill="#3A9186"/>
<text x="447.8" y="710.8" font-size="13.4" text-anchor="start">Fictive temperature of Silica glass</text>
<circle cx="434.8" cy="723.9" r="5.8" fill="url(#gg)"/>
<text x="447.8" y="727.7" font-size="13.4" text-anchor="start">Strain of Gorilla glass</text>
</svg></body></html>
